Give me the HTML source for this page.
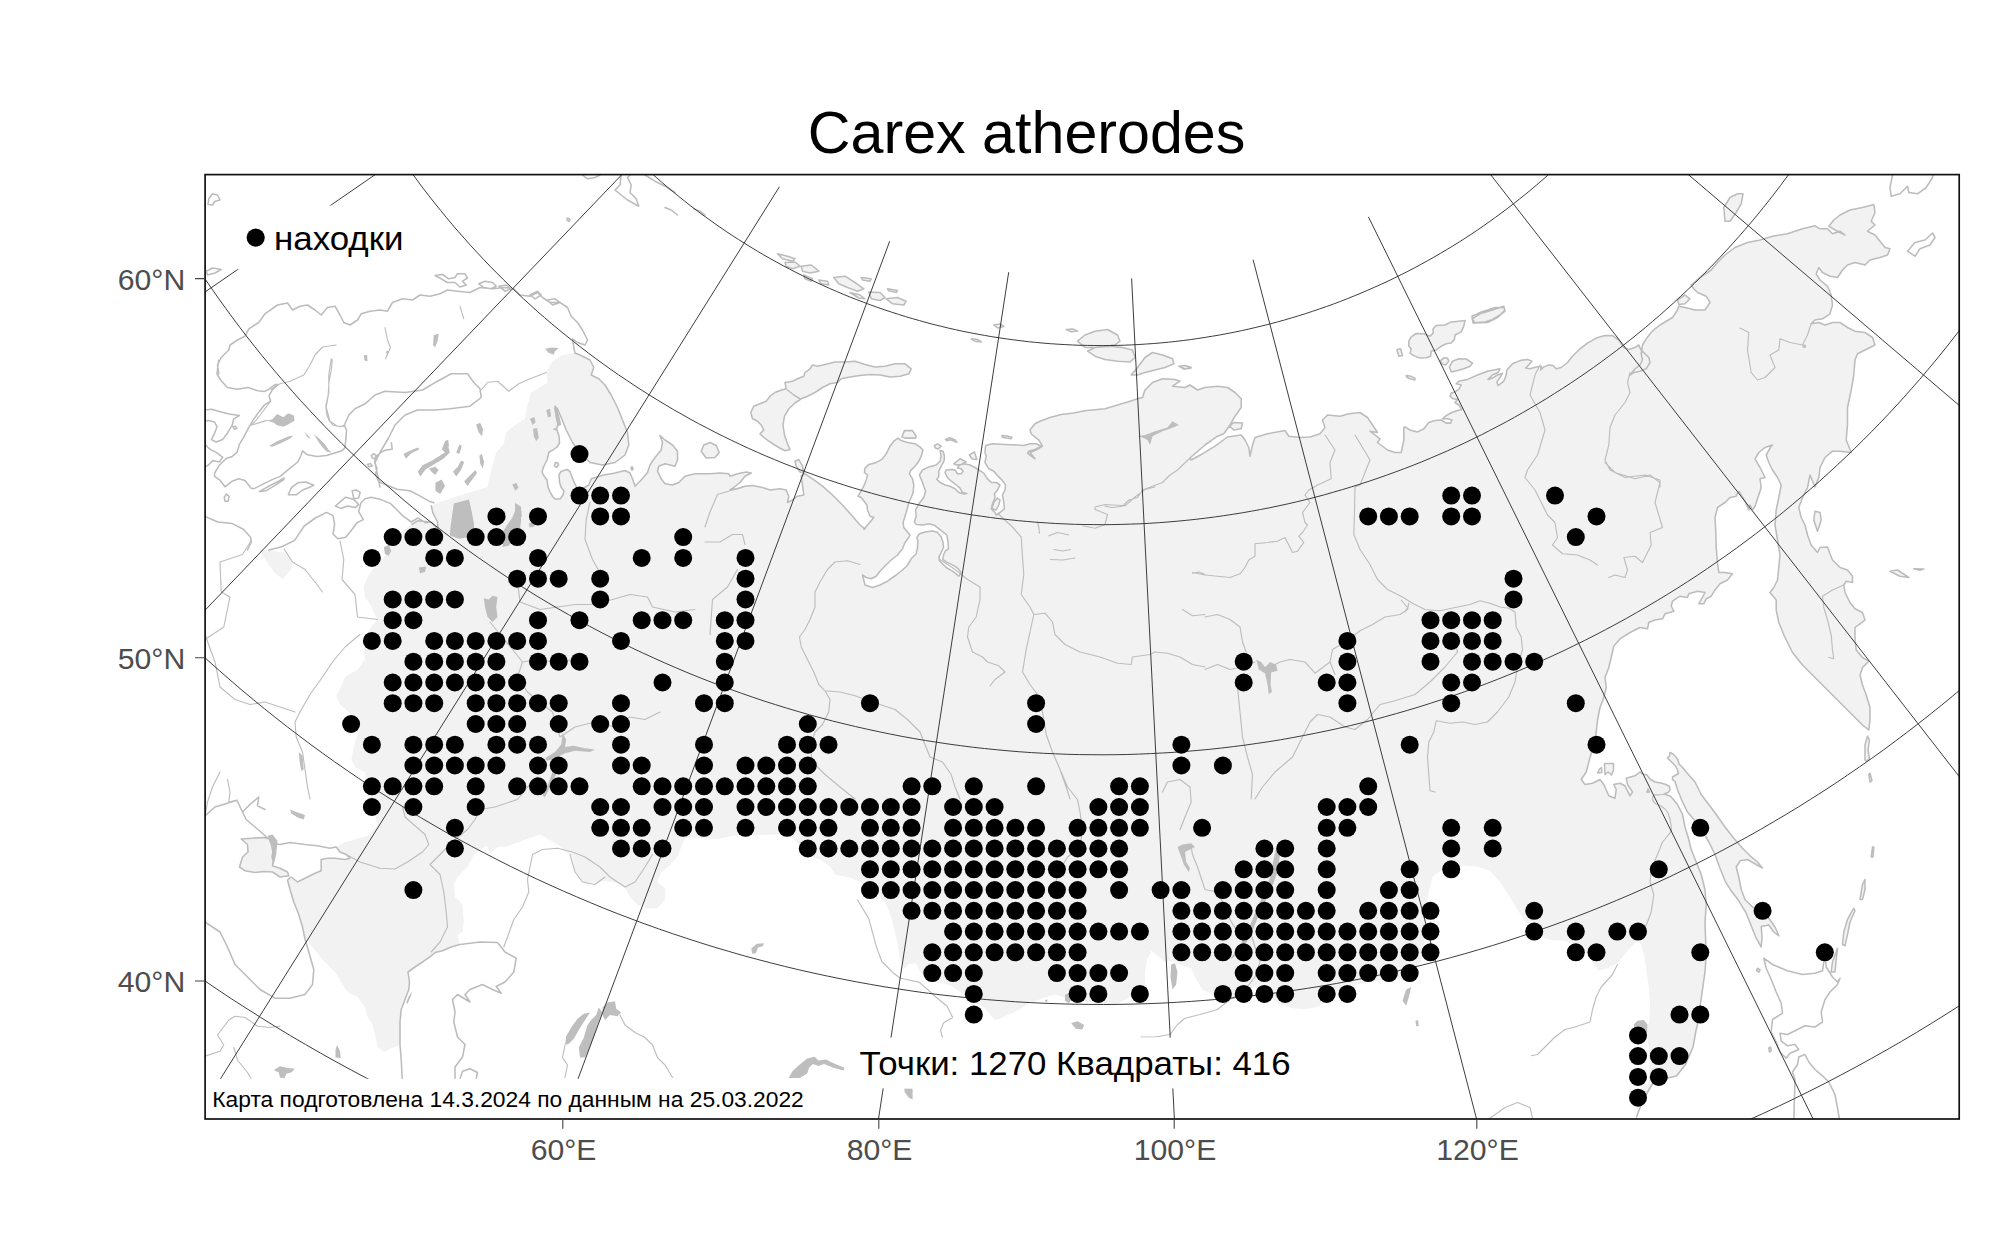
<!DOCTYPE html>
<html lang="ru"><head><meta charset="utf-8"><title>Carex atherodes</title>
<style>
html,body{margin:0;padding:0;background:#fff}
svg{display:block}
text{font-family:"Liberation Sans",sans-serif}
.g{fill:none;stroke:#333;stroke-width:.95}
.c{fill:none;stroke:#bcbcbc;stroke-width:1.55;stroke-linejoin:round;stroke-linecap:round}
.l{fill:#f2f2f2;stroke:none}
.k{fill:#bebebe;stroke:none}
.r{fill:none;stroke:#bdbdbd;stroke-width:1.15;stroke-linejoin:round;stroke-linecap:round}
.w{fill:#fff;stroke:none}
.ax{font-size:30.2px;fill:#4d4d4d}
.tk{stroke:#444;stroke-width:1.1;fill:none}
</style></head><body>
<svg width="2000" height="1253" viewBox="0 0 2000 1253">
<defs><clipPath id="pc"><rect x="205.1" y="174.6" width="1754.1" height="944.4"/></clipPath></defs>
<rect x="0" y="0" width="2000" height="1253" fill="#fff"/>
<g clip-path="url(#pc)">
<path class="l" d="M701.2 451.2 703.8 445.0 710.0 442.5 716.2 445.5 719.2 452.5 715.0 457.5 706.2 458.0Z M901.9 436.9 904.4 430.6 912.5 430.6 916.2 436.2 915.6 438.1 905.0 438.1Z M795.0 461.2 798.8 459.5 802.5 466.2 803.8 473.0 800.0 472.0 796.2 466.2Z M969.4 455.0 974.4 451.9 976.9 459.4 971.9 458.8Z M953.8 463.8 960.0 458.8 966.2 461.9 961.2 464.4 956.2 465.0Z M945.6 439.4 950.0 437.8 955.0 440.0 956.9 442.2 953.8 441.0 950.0 439.8 946.9 440.8Z M934.4 445.6 937.5 443.8 941.2 446.2 938.1 449.0 935.6 448.1Z M1001.9 435.6 1006.9 436.0 1011.9 437.2 1011.2 438.8 1006.2 438.1 1002.5 437.2Z M991.9 508.8 993.8 502.5 997.5 498.1 1000.0 500.0 998.8 505.0 996.2 510.0Z M911.2 368.8 905.0 363.8 895.0 363.8 885.0 366.2 875.0 367.0 865.0 364.5 855.0 361.2 845.0 362.0 835.0 362.0 825.0 364.5 817.5 366.2 812.5 365.0 810.0 368.8 805.0 372.5 803.8 376.2 797.5 378.8 792.5 381.2 785.0 382.5 786.2 388.8 780.0 390.5 775.0 392.5 770.0 396.2 766.2 401.2 760.0 403.8 753.8 406.2 750.8 412.5 752.5 418.8 757.5 421.2 761.2 425.0 763.8 430.0 760.0 433.8 763.8 437.5 768.8 441.2 773.8 444.5 778.8 447.5 785.0 450.8 790.0 449.5 787.5 443.8 784.5 435.0 783.0 425.0 784.5 416.2 788.8 408.8 795.0 403.0 801.2 398.8 807.5 396.2 815.0 392.5 822.5 387.5 830.0 383.8 837.5 382.5 841.2 378.8 850.0 377.0 860.0 375.5 870.0 374.5 880.0 375.0 890.0 377.0 900.0 376.2 908.8 373.8Z M777.5 253.8 787.5 256.2 795.0 258.8 792.5 261.2 782.5 258.8Z M785.0 262.5 795.0 262.0 800.0 266.2 792.5 268.8 786.2 266.2Z M801.2 266.2 811.2 265.0 818.8 271.2 810.0 273.0 802.5 271.2Z M833.8 277.5 845.0 276.2 855.0 282.5 863.8 288.8 857.5 291.2 847.5 287.5 838.8 283.8Z M861.2 277.5 871.2 278.8 870.0 281.2 862.5 280.0Z M868.8 292.0 880.0 292.5 885.0 297.5 880.0 300.5 871.2 298.8Z M886.2 298.8 897.5 297.5 906.2 301.2 903.8 305.0 892.5 303.8Z M887.5 288.8 897.5 290.5 896.2 292.5 888.8 290.8Z M818.8 280.0 827.5 281.2 828.8 285.0 821.2 283.8Z M803.8 275.0 812.5 278.8 811.2 281.2 805.0 278.8Z M850.0 292.5 860.0 295.0 865.0 298.8 858.8 298.0Z M993.8 325.0 1000.0 324.0 1003.8 326.5 997.5 328.0Z M971.2 338.8 977.5 339.5 981.2 342.0 975.0 341.2Z M1077.5 341.2 1085.0 335.0 1095.0 331.2 1107.5 329.5 1117.5 335.0 1120.0 341.2 1115.0 345.0 1105.0 346.2 1095.0 347.5 1085.0 347.5Z M1087.5 351.2 1095.0 347.5 1110.0 346.2 1122.5 347.5 1132.5 350.0 1135.0 357.5 1130.0 362.0 1117.5 361.2 1105.0 359.5 1095.0 356.2Z M1131.2 375.0 1137.5 367.5 1145.0 357.5 1152.5 352.5 1162.5 355.0 1172.5 358.8 1173.8 363.8 1165.0 367.5 1155.0 370.0 1145.0 372.5 1137.5 375.0Z M1066.2 329.5 1072.5 329.0 1077.5 331.0 1071.2 331.8Z M1178.8 366.2 1185.0 365.5 1191.2 368.0 1183.8 369.2Z M241.2 839.0 263.8 837.5 270.0 839.0 272.0 847.0 273.8 857.0 272.5 865.8 280.0 868.2 287.5 872.0 288.8 875.8 280.0 877.0 272.5 872.0 263.8 871.5 255.0 872.5 245.0 870.8 239.5 867.0 242.5 857.0 248.0 852.0 247.5 844.5Z M258.8 549.0 285.0 552.5 292.5 560.8 291.2 569.5 282.5 579.0 275.0 573.2 265.0 559.5Z M1670.0 752.5 1673.0 754.0 1676.0 757.0 1678.0 760.0 1679.0 764.0 1683.0 768.0 1686.2 772.0 1695.0 782.0 1701.2 794.5 1708.8 804.5 1716.2 814.5 1725.0 827.0 1733.8 838.2 1742.5 848.2 1750.0 855.8 1757.5 862.0 1762.5 868.2 1756.2 864.5 1747.5 859.5 1740.0 860.8 1736.2 867.0 1738.8 877.0 1741.2 889.5 1745.0 899.5 1752.5 907.0 1762.5 912.0 1768.8 918.2 1775.0 927.0 1778.8 935.8 1773.8 932.0 1768.8 925.0 1761.2 926.5 1762.0 937.0 1761.2 947.0 1756.2 938.2 1751.2 925.8 1746.2 913.2 1738.8 900.8 1731.2 890.8 1725.0 880.8 1720.0 868.2 1715.0 854.5 1708.8 842.0 1702.5 830.8 1695.0 820.8 1687.5 812.0 1682.5 802.0 1677.5 789.5 1675.0 781.5 1672.5 779.5 1672.5 777.0 1676.0 775.0 1678.5 773.5 1677.5 770.0 1675.5 766.0 1672.0 762.5 1669.5 760.0 1667.5 758.0 1669.5 756.0Z M1723.8 207.5 1730.0 197.5 1737.5 193.8 1743.0 193.8 1741.2 203.8 1736.2 212.5 1730.0 221.2 1725.0 221.2Z M1472.0 318.8 1480.0 313.8 1492.5 310.0 1503.8 306.2 1505.0 311.2 1497.5 317.5 1487.5 322.5 1475.0 323.0Z M1677.5 300.0 1685.0 295.0 1690.0 298.8 1685.0 303.8 1678.8 304.5Z M1229.5 426.2 1233.8 422.5 1242.5 423.0 1241.2 428.8 1233.8 430.0Z M1397.0 349.5 1400.5 348.8 1402.5 355.5 1398.8 356.2Z M1178.8 366.2 1185.0 365.5 1191.2 367.5 1185.0 369.0Z M1813.8 520.0 1815.0 511.2 1820.0 512.5 1821.2 520.0 1817.5 531.2Z M1890.0 571.2 1897.5 570.0 1908.8 577.5 1900.0 576.2Z M1913.8 568.8 1923.8 569.0 1920.0 570.2Z M1865.0 760.0 1865.0 745.0 1867.5 736.2 1869.5 740.0 1868.0 750.0 1869.5 758.8 1866.2 761.2Z M1831.2 972.0 1832.5 962.0 1837.5 948.2 1836.2 959.5 1835.0 972.0Z M1842.5 944.5 1843.8 932.0 1847.5 919.5 1853.8 908.2 1855.0 910.8 1850.0 922.0 1847.5 934.5 1845.0 945.8Z M1860.0 899.5 1862.5 884.5 1865.0 879.5 1865.0 889.5 1862.5 899.5Z M1871.2 857.0 1872.5 847.0 1873.8 847.0 1873.0 857.0Z M1868.8 774.5 1870.0 773.2 1872.0 780.8 1870.0 782.0Z M1604.5 763.5 1613.5 763.5 1613.5 770.0 1611.5 775.0 1608.0 772.0 1605.0 774.5Z M1597.5 773.0 1599.5 769.0 1601.5 767.5 1601.8 772.5Z M1647.0 792.2 1648.0 789.0 1649.5 792.0Z M1408.8 341.2 1411.2 336.9 1416.2 333.5 1423.8 333.8 1430.0 336.2 1433.1 333.1 1433.1 328.8 1436.2 325.6 1445.0 325.0 1451.2 321.9 1458.8 321.2 1465.0 320.6 1463.8 326.2 1461.2 331.9 1455.0 335.0 1454.4 339.4 1451.2 343.1 1446.2 343.8 1441.2 346.2 1436.2 350.0 1431.2 351.2 1430.6 356.2 1426.2 357.8 1420.0 358.1 1413.8 355.6 1410.0 353.1 1411.2 348.8 1408.8 346.2Z M1471.9 316.2 1476.2 314.4 1481.2 311.9 1487.5 310.0 1495.0 307.5 1503.8 307.5 1505.0 310.0 1500.0 315.0 1492.5 319.4 1485.0 321.9 1477.5 322.5 1473.1 323.1Z M1449.4 366.9 1452.5 361.2 1458.8 358.8 1466.2 359.0 1472.5 363.1 1470.0 366.2 1463.8 368.8 1457.5 370.6 1451.2 371.9Z M1440.6 360.6 1443.8 357.8 1447.5 358.1 1448.8 361.2 1445.6 365.0 1441.9 364.0Z M1406.2 375.6 1410.0 376.0 1415.0 378.1 1414.8 380.0 1410.0 378.8 1406.9 377.2Z M554.5 466.0 555.5 462.5 558.0 463.0 558.5 465.0 556.5 467.5Z M631.0 467.5 632.2 466.8 633.2 469.0 631.8 470.0Z M575.0 353.0 580.0 355.0 590.0 360.0 593.8 367.5 591.2 375.0 598.8 378.8 605.0 385.0 611.2 395.0 617.5 407.5 622.5 420.0 627.5 432.5 628.8 445.0 625.0 455.0 615.0 462.5 602.5 465.0 590.0 462.5 580.0 452.5 572.5 442.5 566.2 430.0 561.2 417.5 557.5 408.8 555.0 406.2 555.5 408.0 557.0 410.0 556.0 414.0 556.5 418.0 558.0 424.0 556.5 429.0 554.0 429.0 557.0 430.0 559.0 436.0 559.5 443.0 557.0 447.0 553.0 450.0 549.0 452.0 547.0 460.0 543.5 467.0 542.0 472.0 544.0 476.0 547.0 480.0 548.0 487.0 550.0 492.0 553.0 497.0 555.0 499.0 560.0 499.0 563.0 495.0 564.0 491.0 561.0 487.0 559.5 482.0 559.0 475.0 561.0 471.5 567.0 469.5 570.0 471.5 572.0 477.0 574.0 482.0 576.0 486.0 579.0 492.0 580.0 490.0 588.8 485.0 591.2 478.8 603.8 475.0 615.0 473.0 625.0 470.5 630.0 473.0 633.0 480.0 635.0 486.2 641.2 480.0 647.5 472.5 650.0 465.0 655.0 457.5 661.2 450.0 662.5 442.5 660.0 435.5 665.0 440.0 672.5 445.0 677.5 451.2 677.5 460.0 675.0 466.2 665.0 463.8 658.8 466.2 657.5 471.2 661.2 478.8 665.0 483.8 672.5 485.0 678.8 482.5 685.0 476.2 695.0 473.8 710.0 473.8 720.0 473.0 728.8 473.8 730.0 476.2 737.5 473.8 746.2 472.0 751.2 473.0 745.0 476.2 740.0 482.5 733.8 487.5 730.0 490.0 737.5 488.8 745.0 486.2 752.5 485.5 762.5 487.5 770.0 490.0 780.0 488.8 786.2 490.0 788.8 496.2 787.5 502.5 792.5 500.0 797.5 496.2 803.8 495.0 802.5 485.0 801.2 476.2 805.0 473.8 812.5 478.8 822.5 486.2 832.5 495.0 842.5 505.0 852.5 516.2 860.0 525.0 865.0 528.8 863.8 529.4 873.8 517.5 870.0 516.2 867.5 510.0 866.9 505.0 861.2 497.5 858.1 496.2 863.8 486.2 866.2 480.0 867.5 475.0 864.4 472.5 865.0 468.1 868.8 464.4 875.0 463.1 881.9 459.4 886.2 453.8 890.0 446.2 894.4 440.6 898.1 438.1 901.2 440.6 907.5 442.5 915.0 443.8 920.0 446.9 922.9 450.0 921.2 456.2 918.8 461.2 915.0 466.2 910.6 470.6 909.4 473.8 912.5 478.8 913.8 485.0 913.1 492.5 911.2 497.5 908.8 502.5 906.9 510.0 905.0 516.2 903.1 522.5 903.8 527.5 907.5 531.9 910.0 535.0 908.8 537.5 905.0 542.5 902.5 548.8 897.5 555.0 891.2 560.0 885.0 566.0 880.0 571.2 876.2 576.2 871.2 578.8 866.2 577.5 862.5 575.0 865.0 585.0 872.5 587.5 880.0 585.0 887.5 581.2 896.2 575.0 902.5 570.0 906.9 566.0 911.2 558.8 916.2 553.8 917.5 547.5 917.9 541.2 916.9 537.5 919.4 533.8 925.0 531.9 932.5 531.0 937.5 532.2 941.2 536.9 943.1 542.5 943.5 547.5 941.2 552.5 939.0 556.9 939.4 560.6 942.5 563.8 946.2 567.5 952.5 571.2 958.8 576.2 961.2 572.5 957.5 568.1 953.8 565.6 946.2 561.9 942.8 559.4 943.5 555.0 945.6 550.6 948.5 548.8 948.1 542.5 946.9 535.0 941.2 530.6 935.0 525.6 928.8 523.8 923.1 525.0 916.2 524.4 914.4 521.9 916.2 516.2 915.6 510.0 918.8 503.8 923.8 497.5 925.6 491.2 922.5 482.5 919.4 475.0 922.5 470.0 928.8 466.9 936.2 465.0 940.0 461.2 941.2 456.2 940.0 450.6 943.1 451.2 944.4 456.2 944.0 461.2 941.2 466.2 938.8 471.2 938.8 476.2 936.9 479.4 940.0 482.5 945.0 485.0 950.0 486.2 955.0 488.8 958.8 492.5 963.8 494.0 966.9 493.5 962.5 492.5 960.0 488.1 956.2 485.0 951.2 481.2 947.5 477.5 945.0 472.5 946.2 470.0 951.2 469.4 955.0 470.0 957.5 473.8 961.2 473.8 963.1 471.2 961.2 468.8 957.5 468.1 958.8 465.6 963.8 463.8 970.0 465.0 975.0 467.5 978.8 470.0 983.8 473.1 986.9 478.1 991.2 482.5 996.2 482.5 1000.0 485.0 997.5 490.0 994.4 493.8 995.0 497.5 992.5 503.8 991.2 508.8 995.0 512.5 996.2 515.0 1000.0 512.5 1004.4 508.8 1003.8 502.5 1002.5 495.0 1005.0 490.0 1005.6 485.0 1002.5 480.6 997.5 475.6 993.8 471.2 988.8 468.8 985.0 462.5 986.2 456.2 985.0 452.5 985.6 445.6 992.5 443.8 1005.0 444.4 1017.5 445.0 1023.8 445.6 1030.0 443.8 1036.2 443.8 1041.2 446.2 1035.0 449.4 1028.8 451.2 1027.5 453.1 1035.0 458.8 1030.0 452.5 1036.2 450.0 1042.5 446.2 1038.8 440.0 1033.8 436.2 1031.2 433.8 1030.0 430.0 1035.0 423.8 1040.0 421.2 1050.0 417.5 1061.2 414.4 1073.8 413.1 1086.2 410.6 1092.5 410.0 1092.5 410.0 1105.0 408.8 1117.5 405.0 1130.0 401.2 1137.5 398.8 1142.5 397.5 1145.0 390.0 1152.5 382.5 1162.5 378.8 1175.0 379.5 1180.0 381.2 1172.5 386.2 1185.0 387.5 1190.0 385.0 1197.5 390.0 1205.0 387.5 1217.5 386.2 1227.5 387.5 1235.0 392.5 1241.2 398.8 1241.2 407.5 1235.0 416.2 1230.0 425.0 1223.8 433.8 1217.5 436.2 1205.0 445.0 1190.0 458.0 1191.2 460.0 1202.5 453.8 1215.0 446.2 1227.5 437.0 1241.2 435.0 1245.0 440.0 1248.8 447.5 1250.0 456.2 1252.5 445.0 1255.0 437.5 1267.5 433.8 1285.0 430.5 1288.8 436.2 1300.0 437.5 1310.0 437.0 1320.0 433.8 1325.0 427.5 1322.5 420.0 1327.5 415.0 1340.0 416.2 1348.8 413.8 1360.0 412.5 1367.5 417.5 1372.5 425.0 1377.5 432.5 1370.0 431.2 1380.0 438.8 1377.5 442.5 1387.5 450.0 1395.0 452.5 1401.2 452.5 1403.8 440.0 1403.8 427.5 1405.0 426.9 1410.0 430.0 1417.5 431.9 1423.8 428.8 1428.8 422.5 1435.0 420.6 1441.2 420.0 1446.2 423.1 1450.6 423.1 1451.9 420.0 1447.5 418.8 1442.5 418.8 1446.2 415.6 1451.9 412.5 1457.5 410.6 1461.9 409.4 1458.8 405.0 1455.0 402.5 1457.5 399.4 1453.1 398.8 1450.0 396.2 1451.2 393.1 1455.0 391.9 1458.8 389.4 1461.2 385.0 1456.2 383.8 1458.8 381.2 1467.5 379.4 1477.5 375.0 1487.5 371.2 1500.0 368.8 1498.1 372.5 1492.5 375.0 1488.1 379.4 1492.5 378.1 1497.5 375.0 1502.5 373.1 1500.0 377.5 1496.9 381.9 1498.1 385.6 1503.8 381.2 1506.2 375.0 1506.9 370.0 1512.5 363.8 1520.0 360.6 1527.5 359.4 1531.9 361.2 1528.8 365.0 1525.6 368.1 1530.0 368.8 1536.2 366.9 1541.2 366.2 1540.6 370.0 1543.8 366.9 1548.8 365.0 1553.1 365.6 1556.2 368.8 1561.2 367.5 1567.5 362.5 1572.5 356.2 1580.0 348.8 1587.5 343.1 1596.2 338.1 1605.0 335.6 1612.5 335.6 1618.8 340.0 1623.8 347.5 1628.8 349.4 1635.0 347.5 1638.8 345.0 1640.6 349.4 1645.0 353.8 1648.8 357.5 1650.0 362.5 1646.2 368.8 1640.0 371.2 1633.8 372.5 1630.0 375.0 1635.0 368.8 1640.0 365.0 1642.5 360.0 1641.2 353.8 1642.5 345.0 1646.2 338.8 1651.2 332.5 1655.0 328.8 1660.0 325.0 1672.5 317.5 1677.5 310.0 1678.8 306.2 1685.0 307.5 1695.0 310.0 1705.0 310.0 1710.0 302.5 1706.2 296.2 1697.5 292.5 1693.8 288.8 1691.2 285.0 1700.0 277.5 1711.2 270.0 1717.5 262.5 1725.0 255.0 1735.0 247.5 1747.5 242.5 1760.0 240.0 1772.5 236.2 1787.5 233.8 1802.5 228.8 1815.0 225.8 1820.0 228.8 1827.5 228.8 1832.5 233.8 1840.0 231.2 1845.0 235.0 1835.0 230.0 1828.8 226.2 1833.8 220.0 1840.0 215.0 1850.0 210.0 1862.5 207.5 1873.8 204.5 1875.0 212.5 1871.2 221.2 1875.0 225.0 1867.5 231.2 1875.0 235.0 1880.0 241.2 1885.0 247.5 1890.0 248.8 1887.5 255.0 1880.0 257.5 1870.0 260.0 1865.0 265.0 1855.0 262.5 1847.5 265.0 1842.5 270.0 1837.5 277.5 1830.0 276.2 1822.5 272.5 1818.8 267.5 1816.2 273.8 1820.0 280.0 1827.5 286.2 1831.2 295.0 1832.5 305.0 1830.0 313.8 1822.5 318.8 1815.0 320.0 1811.2 323.8 1818.8 322.5 1825.0 325.0 1832.5 322.5 1840.0 322.5 1847.5 327.5 1855.0 331.2 1865.0 332.5 1872.5 337.5 1875.0 345.0 1865.0 350.0 1857.5 353.8 1855.0 360.0 1853.8 375.0 1851.2 390.0 1847.5 407.5 1847.5 425.0 1846.2 440.0 1851.2 452.5 1840.0 451.2 1832.5 451.2 1825.0 457.5 1820.0 467.5 1818.8 477.5 1815.0 487.0 1815.0 487.0 1810.0 475.0 1807.5 487.5 1802.5 497.5 1798.8 507.5 1801.2 517.5 1805.0 525.0 1807.5 535.0 1811.2 545.0 1817.5 552.5 1820.0 547.5 1827.5 547.0 1830.0 553.8 1832.5 560.0 1840.0 567.5 1847.5 570.0 1852.5 576.2 1852.5 582.5 1846.2 581.2 1843.8 585.0 1845.0 592.5 1850.0 602.5 1855.0 608.8 1862.5 612.5 1865.0 620.0 1860.0 623.8 1855.0 627.5 1855.0 640.0 1856.2 650.0 1862.5 657.5 1868.8 661.2 1862.5 667.5 1860.0 675.0 1862.5 685.0 1866.2 695.0 1870.0 707.5 1870.0 720.0 1868.8 730.0 1862.5 725.0 1852.5 715.0 1840.0 702.5 1827.5 690.0 1815.0 677.5 1802.5 665.0 1792.5 652.5 1785.0 637.5 1778.8 622.5 1776.2 610.0 1776.2 600.0 1770.0 592.5 1773.8 587.5 1777.5 580.0 1778.8 567.5 1780.0 555.0 1777.5 540.0 1775.0 525.0 1776.2 510.0 1778.8 497.5 1781.2 485.0 1777.5 477.5 1772.5 470.0 1768.8 462.5 1766.2 455.0 1771.2 446.2 1772.5 445.0 1765.0 447.5 1758.8 452.5 1755.0 458.8 1760.0 467.5 1763.8 475.0 1765.0 477.5 1760.0 478.8 1761.2 487.5 1757.5 498.8 1755.0 506.2 1752.5 510.0 1750.0 505.0 1748.8 510.0 1745.0 501.2 1738.8 491.2 1736.2 496.2 1730.0 497.5 1725.0 502.5 1717.5 507.5 1715.0 517.5 1715.8 532.5 1716.2 547.5 1717.5 562.5 1718.8 572.5 1725.0 572.5 1732.5 573.8 1727.5 580.0 1720.0 583.8 1715.0 590.0 1711.2 596.2 1706.2 598.8 1703.8 603.8 1698.8 603.8 1705.0 592.5 1697.5 591.2 1688.8 593.8 1687.5 597.5 1680.0 596.2 1672.5 601.2 1671.2 606.2 1673.8 611.2 1665.0 613.8 1662.5 618.8 1655.0 620.0 1648.8 622.5 1647.5 628.8 1640.0 627.5 1630.0 632.5 1620.0 638.8 1613.8 646.2 1611.2 657.5 1608.8 667.5 1605.0 677.5 1606.2 687.5 1603.8 697.5 1600.0 707.5 1597.5 720.0 1596.2 732.5 1593.8 745.0 1590.0 757.5 1586.2 772.0 1586.2 772.0 1581.2 779.5 1585.0 784.5 1592.5 783.2 1600.0 779.5 1603.8 784.5 1608.8 795.8 1615.0 798.2 1616.2 789.5 1613.8 784.5 1620.0 783.2 1625.0 785.8 1630.0 795.8 1632.5 792.0 1627.5 784.5 1626.2 778.2 1635.0 775.8 1640.0 772.0 1643.0 774.0 1647.0 775.0 1650.0 779.0 1655.0 782.0 1661.0 783.0 1666.0 784.5 1669.5 786.5 1670.0 790.0 1668.0 792.5 1664.0 794.0 1670.0 796.0 1673.0 799.0 1677.5 804.5 1682.5 814.5 1685.0 827.0 1688.8 839.5 1691.2 849.5 1696.2 862.0 1701.2 874.5 1705.0 889.5 1706.2 904.5 1705.0 922.0 1705.5 937.0 1706.2 954.5 1705.0 972.0 1702.5 989.5 1700.0 1007.0 1697.5 1024.5 1696.0 1030.5 1693.0 1047.0 1685.8 1064.0 1676.5 1076.0 1663.5 1079.0 1652.0 1084.5 1646.5 1094.0 1641.0 1105.0 1636.5 1117.0 1637.5 1104.5 1640.0 1092.0 1643.8 1084.5 1648.8 1084.0 1649.5 1067.0 1648.8 1047.0 1646.2 1032.0 1649.5 1019.5 1650.0 1004.5 1648.8 987.0 1646.2 969.5 1644.5 957.0 1641.2 944.5 1637.5 940.8 1627.5 950.8 1617.5 963.2 1607.5 968.2 1598.8 970.8 1593.8 964.5 1588.8 955.8 1580.0 947.0 1565.0 940.8 1550.0 940.0 1537.5 935.0 1527.5 924.5 1518.8 912.0 1510.0 897.0 1500.0 882.0 1490.0 870.8 1477.5 866.5 1465.0 865.8 1455.0 864.5 1442.5 869.5 1433.0 876.0 1427.5 897.0 1426.0 924.8 1422.5 957.2 1415.0 972.0 1403.8 980.8 1393.2 977.5 1375.0 980.8 1360.0 984.0 1344.0 987.5 1330.0 998.2 1317.5 1007.0 1306.2 1009.0 1292.5 1008.2 1280.0 1004.5 1267.5 994.5 1255.0 986.5 1242.5 992.0 1230.0 997.0 1217.5 1003.2 1212.5 994.5 1202.5 989.5 1196.2 979.5 1191.2 968.2 1180.0 964.5 1172.8 960.8 1165.0 962.0 1151.5 950.8 1147.5 958.2 1145.0 972.0 1145.0 991.0 1130.0 997.0 1115.0 1005.8 1100.8 1004.5 1085.0 1000.8 1067.0 998.2 1055.0 994.5 1042.5 998.2 1030.0 1003.2 1015.0 1012.0 995.0 1020.5 985.0 1008.2 967.5 997.0 950.0 985.0 930.0 980.8 920.0 972.0 916.2 963.2 908.0 964.5 903.8 969.5 900.0 957.0 896.2 937.0 891.2 917.0 885.0 902.0 872.5 889.5 860.0 882.0 850.0 877.5 835.5 875.0 830.0 866.5 820.5 859.5 812.5 857.5 805.0 854.5 801.2 847.0 795.0 840.8 787.5 834.5 737.5 835.0 717.5 839.0 685.5 837.5 681.2 847.0 677.5 857.0 668.8 866.5 661.2 872.0 657.5 881.5 665.5 889.0 665.0 899.5 657.5 908.2 647.5 908.2 637.5 905.0 630.0 897.0 625.0 887.5 615.0 882.5 605.0 881.0 595.0 882.5 582.5 882.0 575.5 872.0 572.5 857.0 557.5 844.5 540.0 834.5 517.5 842.5 505.0 847.0 497.5 847.0 490.0 853.2 487.0 845.8 480.0 850.0 473.8 855.0 467.5 867.0 457.5 877.0 453.8 884.5 455.0 897.0 462.5 904.5 463.8 922.0 462.5 932.0 457.5 935.0 460.0 944.5 460.0 944.5 451.2 947.0 442.5 950.8 435.0 952.5 431.2 955.8 422.5 962.0 415.0 967.0 408.0 972.0 409.5 982.0 408.8 989.5 405.0 999.5 401.2 1009.5 400.0 1022.0 400.0 1034.5 400.0 1045.0 391.2 1048.2 383.8 1052.0 377.5 1047.0 375.0 1034.5 372.5 1024.5 367.5 1017.0 365.0 1007.0 357.5 997.0 347.5 992.0 342.5 984.5 335.0 972.0 322.5 959.5 312.5 947.0 305.0 939.0 305.0 939.0 302.5 927.0 298.8 914.5 293.8 902.0 290.0 889.5 287.5 880.0 291.2 877.0 297.5 882.0 305.0 878.2 315.0 873.2 321.2 870.8 321.2 859.5 327.5 858.2 335.0 858.2 345.0 859.5 350.0 858.2 346.2 854.5 340.0 852.0 336.2 847.0 343.8 842.5 355.0 839.5 367.5 835.8 377.5 825.8 375.0 814.5 367.5 794.5 365.0 772.0 356.2 768.2 351.2 759.5 353.8 747.0 357.5 734.5 355.0 720.8 348.8 712.0 340.0 704.5 336.2 695.8 341.2 687.0 345.0 677.0 357.5 669.5 365.0 659.5 363.8 647.0 365.0 637.0 371.2 627.0 377.5 619.5 370.0 604.5 365.0 597.0 363.8 587.0 367.5 577.0 372.5 569.5 380.0 562.0 386.2 554.5 390.0 545.8 395.0 537.0 402.5 530.8 412.0 524.5 412.0 524.5 417.5 520.8 425.0 521.5 431.2 522.0 438.0 529.5 437.5 522.0 433.0 513.2 431.2 505.8 440.0 502.0 455.0 497.0 487.5 487.0 490.0 475.0 492.5 465.0 496.2 452.5 503.8 443.8 506.2 432.5 515.0 425.0 525.0 418.8 527.5 405.0 531.2 392.5 540.0 387.5 547.5 382.5 546.2 372.5 552.5 361.2 562.5 355.0 575.0 353.0Z"/>
<path class="k" d="M545.0 348.8 551.2 347.5 558.8 348.0 555.0 351.2 553.8 354.5 548.8 353.0Z M433.8 335.0 438.8 333.8 437.5 341.2 435.0 347.5 433.0 345.0Z M363.8 355.0 367.0 355.5 367.5 361.2 364.5 360.5Z M476.2 425.0 480.0 423.8 483.0 430.0 482.0 436.2 478.8 432.5Z M530.0 418.8 534.5 417.0 535.5 422.5 532.5 425.0Z M533.0 428.8 537.0 428.0 538.8 437.5 536.2 441.2 533.8 436.2Z M546.2 410.0 550.0 408.8 551.2 416.2 548.0 417.5Z M553.8 407.5 557.0 407.0 560.0 418.8 561.2 425.0 558.0 426.2 555.5 416.2Z M1137.5 436.2 1145.0 435.0 1155.0 431.2 1167.5 427.5 1172.5 421.2 1178.8 425.0 1170.0 428.8 1162.5 431.2 1152.5 436.2 1150.0 445.0 1147.5 440.0 1142.5 437.5Z M1802.5 344.5 1806.2 345.0 1805.8 348.0 1802.5 347.5Z M1633.8 1024.5 1637.5 1020.8 1643.8 1020.0 1647.5 1024.5 1647.0 1032.0 1640.0 1033.2 1635.0 1030.8Z M1256.2 659.5 1261.2 662.0 1265.0 667.0 1270.5 662.0 1276.2 665.0 1277.5 670.8 1271.2 672.5 1270.5 684.5 1272.0 692.0 1268.8 694.0 1267.5 684.5 1265.0 673.2 1258.8 669.5Z M1276.2 848.2 1280.0 854.5 1277.5 872.0 1273.8 882.0 1267.5 897.0 1260.0 912.0 1255.0 924.5 1251.2 934.5 1245.0 944.5 1233.8 957.0 1230.0 959.5 1238.8 947.0 1246.2 934.5 1252.5 919.5 1257.5 907.0 1265.0 892.0 1270.0 877.0 1273.0 862.0Z M1177.5 847.0 1182.5 844.5 1191.2 843.2 1195.0 847.0 1190.0 849.5 1185.0 852.0 1186.2 862.0 1190.0 868.2 1188.8 872.0 1183.8 864.5 1181.2 857.0Z M1171.2 964.5 1175.0 963.2 1177.5 972.0 1176.2 984.5 1172.5 989.5 1170.5 977.0Z M1065.0 994.5 1069.5 993.2 1072.0 998.2 1068.8 1003.2 1065.0 1000.8Z M1402.5 1000.8 1406.2 989.5 1411.2 987.0 1408.8 997.0 1406.2 1005.8Z M1415.5 1020.8 1418.0 1020.0 1418.8 1025.8 1416.2 1026.5Z M267.5 835.8 272.5 834.5 277.5 840.8 276.2 854.5 273.8 864.5 271.2 857.0 273.0 847.0 269.5 842.0Z M290.0 809.5 296.2 812.0 305.0 815.0 303.8 819.5 297.5 817.5 291.2 813.2Z M273.8 1070.0 280.0 1066.2 287.5 1068.0 295.0 1068.8 291.2 1072.5 286.2 1073.8 284.5 1078.2 280.0 1077.5 278.8 1072.5Z M335.5 1050.0 337.0 1045.0 340.0 1051.2 340.8 1058.0 335.5 1057.5Z M406.2 1002.5 408.8 996.2 412.5 991.2 410.5 997.0 407.5 1003.8Z M565.0 1045.0 566.2 1036.2 571.2 1027.5 577.5 1018.8 583.8 1013.8 590.0 1012.5 585.0 1020.0 578.8 1030.0 573.8 1038.8 568.8 1043.8Z M580.0 1057.5 578.8 1047.5 583.8 1037.5 587.5 1025.0 591.2 1020.0 596.2 1015.0 598.8 1007.5 602.5 1012.5 597.5 1025.0 593.8 1037.5 588.8 1050.0 585.0 1057.5Z M602.5 1007.5 607.5 1002.5 615.0 1001.2 616.2 1008.8 621.2 1012.5 617.5 1016.2 610.0 1015.0 605.0 1020.0 602.5 1015.0Z M788.6 1078.1 792.3 1071.6 797.9 1066.0 807.2 1058.5 814.7 1056.7 818.4 1060.4 825.9 1059.5 835.2 1064.1 844.5 1067.8 843.6 1070.6 833.4 1067.8 824.0 1064.1 818.4 1066.0 812.8 1064.1 809.1 1067.8 807.2 1073.4 799.8 1078.1Z M751.3 948.5 756.9 943.8 764.0 943.3 762.9 946.3 757.8 947.6 756.0 953.2 752.2 953.7Z M904.2 1088.4 912.6 1088.4 912.6 1099.6 908.9 1097.7 904.6 1092.1Z M1071.1 1023.1 1077.7 1021.2 1084.2 1025.0 1082.3 1029.6 1075.8 1028.7Z M1045.0 999.8 1047.5 999.8 1047.1 1002.2 1045.2 1001.8Z M515.0 502.0 518.8 509.5 521.2 519.5 520.0 529.5 515.0 537.0 508.8 545.8 502.5 547.0 503.8 537.0 508.8 529.5 513.8 519.5 515.0 512.0Z M483.8 598.2 488.8 599.5 492.5 595.8 497.5 597.0 496.2 607.0 497.5 617.0 492.5 622.0 487.5 617.0 485.0 607.0Z M418.8 567.5 426.2 566.5 425.0 572.0 420.0 573.2Z M383.8 547.0 388.8 545.0 391.2 550.8 388.8 555.8 385.0 554.0Z M528.8 523.2 533.8 522.0 534.5 526.5 529.5 527.5Z M501.2 512.0 505.0 510.8 506.2 519.5 502.5 520.8Z M562.5 733.2 566.2 739.5 565.0 747.0 573.8 745.8 585.0 748.2 595.0 749.5 590.0 752.0 575.0 750.8 565.0 753.2 555.0 758.2 547.5 760.8 545.0 758.2 555.0 752.0 561.2 744.5Z M298.8 752.0 302.5 755.8 303.8 769.5 301.2 770.8 299.5 760.8Z M552.5 772.0 556.2 774.5 550.0 787.0 545.0 797.0 542.5 795.8 548.0 784.5Z M266.6 420.4 272.2 419.6 277.0 414.0 283.4 417.2 288.2 413.2 293.8 415.6 294.6 420.4 288.2 424.4 283.4 426.8 277.0 425.2 273.8 422.8Z M269.0 446.0 277.0 441.2 288.2 436.4 293.8 435.6 289.8 438.8 280.2 443.6 272.2 446.8Z M313.8 434.0 320.2 439.6 325.0 444.4 328.2 449.2 331.4 452.4 326.6 451.6 322.6 447.6 318.6 442.0Z M304.2 431.6 309.0 436.4 310.6 438.8 307.4 437.2Z M417.8 471.6 422.6 465.2 432.2 460.4 440.2 455.6 445.0 452.4 448.2 446.0 449.8 452.4 443.4 458.8 433.8 464.4 425.8 469.2 420.2 476.4Z M435.4 482.8 441.8 479.6 445.0 486.0 440.2 494.0 435.4 490.8Z M453.0 471.6 457.8 466.8 461.0 460.4 464.2 462.0 461.0 470.0 456.2 476.4Z M464.2 481.2 470.6 474.8 475.4 470.0 477.0 473.2 472.2 479.6 467.4 486.0Z M441.8 449.2 445.0 441.2 448.2 439.6 449.0 446.0 445.0 452.4Z M456.2 452.4 459.4 444.4 461.8 446.0 459.4 454.0Z M479.4 455.6 481.8 454.0 484.2 462.0 482.6 468.4 480.2 463.6Z M512.2 484.4 516.2 482.8 518.6 487.6 515.4 490.8Z M476.2 424.4 480.2 422.8 483.4 430.0 481.0 433.2 477.8 429.2Z M429.0 468.4 435.4 466.8 438.6 470.0 435.4 474.8 432.2 472.4Z M403.4 454.0 409.8 450.8 417.8 447.6 419.4 449.2 411.4 453.2 405.8 458.8Z M365.0 354.8 367.4 355.6 366.9 361.2 364.7 360.4Z M385.8 351.6 388.2 350.8 387.4 356.4Z M453.8 503.6 459.4 502.0 469.0 499.6 471.4 510.0 473.8 522.8 474.6 534.0 467.4 537.2 459.4 538.8 449.8 535.6 450.6 526.0 452.2 514.8Z M516.2 503.6 521.0 506.8 521.8 516.4 517.0 522.8 513.8 527.6 509.0 530.8 505.8 538.8 501.0 542.0 502.6 532.4 507.4 524.4 512.2 518.0 515.4 510.0Z"/>
<path class="r" d="M271.2 389.5 280.0 383.8 290.0 381.2 303.8 375.0 310.0 365.0 315.0 355.0 322.5 347.0 336.2 345.0 M331.2 358.8 328.8 375.0 328.8 392.5 326.2 407.5 330.0 421.2 337.5 426.2 343.8 426.2 M481.2 390.0 487.5 382.5 497.5 381.2 508.8 391.2 518.8 383.8 530.0 378.8 540.0 375.0 546.2 372.5 M385.0 327.5 387.5 340.0 390.5 347.5 385.5 358.8 M460.0 306.2 463.8 318.8 M1190.0 458.0 1177.5 470.0 1170.0 475.0 1162.5 482.5 1152.5 486.2 1142.5 490.0 1137.5 497.5 1128.8 500.0 1122.5 506.2 1112.5 507.5 1105.0 506.2 M1355.0 435.0 1362.5 447.5 1370.0 460.0 1365.0 472.5 1360.0 485.0 1355.0 487.0 M1325.0 435.0 1335.0 450.0 1330.0 462.5 1331.2 478.8 1317.5 485.0 1308.8 490.0 1305.0 495.0 1310.0 502.5 1302.5 512.5 1305.0 522.5 1307.5 525.0 1302.5 532.5 1298.8 536.2 1303.8 542.5 1297.5 551.2 1292.5 552.5 1285.0 537.5 1277.5 541.2 1267.5 542.5 1255.0 543.8 1255.0 556.2 1248.8 560.0 1245.0 567.5 1240.0 573.8 1230.0 577.5 1217.5 576.2 1205.0 575.0 1192.5 572.5 M1540.0 365.0 1535.0 375.0 1530.0 395.0 1540.0 412.5 1545.0 430.0 1537.5 455.0 1527.5 470.0 1525.0 477.5 1535.0 490.0 1542.5 505.0 1547.5 515.0 1555.0 522.5 1557.5 537.5 1552.5 545.0 1562.5 553.8 1577.5 555.0 1590.0 560.0 1597.5 565.0 M1401.2 600.0 1407.5 607.5 1405.0 612.0 M1630.0 372.5 1627.5 382.5 1630.0 392.5 1625.0 402.5 1615.0 415.0 1610.0 427.5 1608.8 445.0 1605.0 460.0 1610.0 470.0 1625.0 477.5 1645.0 475.0 1660.0 480.0 1660.0 487.0 M1811.2 323.8 1807.5 335.0 1802.5 345.0 1790.0 342.5 1780.0 338.8 1778.8 350.0 1770.0 355.0 1775.0 367.5 1765.0 377.5 1757.5 380.0 1751.2 372.5 1747.5 350.0 1748.8 332.5 1740.0 328.0 M1605.0 462.5 1615.0 472.5 1635.0 478.8 1650.0 475.0 1660.0 482.5 1655.0 502.5 1662.5 527.5 1650.0 532.5 1651.2 545.0 1642.5 562.5 1635.0 556.2 1623.8 557.5 1627.5 570.0 1625.0 577.5 1615.0 575.0 1608.8 577.5 M1843.8 585.0 1832.5 590.0 1822.5 596.2 1823.8 607.5 1827.5 620.0 1831.2 635.0 1832.5 650.0 1833.8 658.8 1828.8 657.5 M1640.0 938.2 1647.5 922.0 1651.2 912.0 1653.8 894.5 1650.0 882.0 1651.2 869.5 1657.5 854.5 1662.5 842.0 1670.0 833.2 M1670.0 833.0 1671.5 830.0 1671.0 825.0 1670.0 819.0 1668.0 813.0 1665.0 809.0 1661.0 806.0 1656.0 804.0 1653.0 801.0 1652.5 797.0 1655.0 794.8 1659.0 794.8 1664.0 794.5 M1617.5 964.5 1612.5 974.5 1601.2 987.0 1596.2 997.0 1592.5 1009.5 1590.0 1022.0 1575.0 1027.0 1565.0 1029.5 1555.0 1037.0 1545.0 1047.0 1537.5 1054.5 1531.2 1055.8 M860.0 564.5 847.5 560.8 835.0 562.0 827.5 569.5 820.0 582.0 815.0 592.0 815.0 607.0 810.0 619.5 805.0 629.5 799.5 637.0 801.2 647.0 807.5 659.5 813.8 672.0 818.8 684.5 825.0 690.8 830.0 699.5 828.8 712.0 822.5 724.5 815.0 732.0 810.0 747.0 812.5 762.0 825.0 774.5 840.0 787.0 855.0 799.0 M825.0 690.8 840.0 692.0 855.0 695.8 880.0 704.5 895.0 709.5 907.5 719.5 920.0 732.0 925.0 744.5 930.0 757.0 942.5 762.0 951.2 774.5 955.0 787.0 960.0 799.0 M940.0 559.5 955.0 569.5 967.5 579.5 980.0 587.0 980.0 599.5 976.2 617.0 968.8 627.0 967.5 637.0 972.5 652.0 982.5 657.0 987.5 662.0 998.8 665.8 1005.0 672.0 995.0 679.5 990.0 685.8 M998.8 514.5 1012.5 527.0 1021.2 537.0 1022.5 557.0 1023.8 574.5 1021.2 594.5 1030.0 607.0 1033.8 614.5 1030.0 632.0 1026.2 649.5 1022.5 672.0 1030.0 684.5 1037.5 694.5 1042.5 712.0 1046.2 734.5 1052.5 752.0 1060.0 769.5 1066.2 787.0 1070.0 799.0 M1033.8 614.5 1045.0 613.2 1052.5 622.0 1055.0 634.5 1065.0 644.5 1080.0 652.0 1100.0 657.0 1117.5 663.2 1131.2 664.5 1132.5 657.0 1150.0 654.5 1155.0 652.0 1167.5 653.2 1180.0 657.0 1192.5 664.5 1205.0 667.0 M1082.5 525.8 1095.0 528.2 1105.0 524.5 1107.5 514.5 1095.0 509.5 1095.0 507.0 1105.0 504.5 1125.0 505.8 1135.0 497.0 1145.0 489.5 1155.0 487.0 M705.0 527.0 710.0 512.0 717.5 494.5 730.0 490.8 742.5 487.0 M705.0 542.0 720.0 542.0 732.5 534.5 742.5 534.5 745.0 544.5 M710.0 634.5 712.5 599.5 727.5 587.0 737.5 569.5 M1192.5 573.2 1198.8 572.0 1205.0 574.5 M1182.5 609.5 1192.5 615.8 1205.0 614.5 M1048.8 535.8 1057.5 532.5 1068.8 535.0 M1053.8 549.5 1062.5 551.0 1070.5 549.5 M1050.5 559.5 1062.5 560.0 1075.0 558.0 M1037.5 522.0 1038.8 527.0 1039.5 533.2 M1355.0 487.0 1354.5 512.0 1353.8 534.5 1360.0 549.5 1370.0 564.5 1377.5 579.5 1387.5 589.5 1402.5 597.0 1412.5 603.2 1425.0 609.5 1440.0 610.8 1457.5 607.0 1470.0 604.5 1480.0 600.8 1490.0 603.2 1500.0 607.0 1508.8 608.2 1515.0 612.0 1516.2 627.0 1521.2 637.0 1522.5 649.5 1517.5 667.0 1515.0 682.0 1508.8 697.0 1497.5 712.0 1487.5 722.0 1475.0 724.5 1462.5 722.0 1450.0 723.2 1436.2 720.8 1433.8 732.0 1428.8 742.0 1427.5 757.0 1428.8 774.5 1430.0 790.8 1435.0 792.0 M1408.8 603.2 1407.5 609.5 1400.0 614.5 1385.0 617.0 1372.5 624.5 1360.0 630.8 1347.5 640.8 1332.5 649.5 1330.0 662.0 1335.0 674.5 M1330.0 662.0 1315.0 673.2 1305.0 662.0 1290.0 659.5 1280.0 662.0 1270.0 667.0 M1255.0 662.0 1242.5 667.0 1230.0 669.5 1217.5 664.5 1205.0 669.5 M1205.0 617.0 1217.5 614.5 1230.0 619.5 1240.0 627.0 1242.5 642.0 1246.2 652.0 M1237.5 687.0 1240.0 712.0 1242.5 737.0 1247.5 757.0 1252.5 774.5 1251.2 799.0 M1455.0 642.0 1457.5 652.0 1445.0 667.0 1430.0 682.0 1415.0 694.5 1395.0 700.8 1380.0 704.5 1367.5 719.5 1355.0 729.5 1345.0 727.0 1330.0 717.0 1317.5 714.5 1310.0 722.0 1302.5 737.0 1292.5 757.0 1275.0 772.0 1262.5 787.0 1255.0 799.0 M1251.2 934.5 1255.0 947.0 1260.0 962.0 1255.0 977.0 1245.0 989.5 1230.0 999.5 1217.5 1009.5 1200.0 1014.5 1185.0 1018.2 1177.5 1024.5 1170.0 1034.5 1155.0 1037.0 1141.2 1037.0 M1245.0 944.5 1237.5 932.0 1230.0 919.5 1225.0 907.0 1217.5 892.0 1205.0 889.5 1202.5 882.0 1197.5 867.0 1192.5 854.5 1191.2 847.0 M1180.0 829.5 1185.0 817.0 1191.2 802.0 1190.0 787.0 1180.0 779.5 1167.5 782.0 1162.5 792.0 M1061.2 772.0 1067.5 787.0 1077.5 799.5 1080.0 812.0 1082.5 829.5 1080.0 847.0 1067.5 857.0 1058.8 872.0 1055.0 884.5 M346.2 854.5 360.0 862.0 380.0 868.2 395.0 869.0 407.5 862.0 422.5 852.0 428.8 844.5 425.0 834.5 415.0 825.8 405.0 817.0 402.5 807.0 M431.2 952.0 440.0 942.0 447.5 927.0 446.2 912.0 443.8 892.0 440.0 874.5 430.0 864.5 440.0 854.5 455.0 839.5 467.5 829.5 475.0 819.5 480.0 809.5 495.0 807.0 517.5 799.5 527.5 787.0 537.5 777.0 M530.0 867.0 527.5 879.5 528.8 892.0 522.5 907.0 513.8 919.5 507.5 937.0 503.8 947.0 M530.0 867.0 532.5 854.5 542.5 849.5 557.5 848.2 572.5 852.0 585.0 857.0 600.0 867.0 610.0 877.0 625.0 887.0 635.0 882.0 645.0 867.0 652.5 854.5 M570.0 854.5 575.0 872.0 582.5 882.0 595.0 884.5 605.0 877.0 M227.5 779.5 230.0 792.0 228.8 802.0 236.8 800.2 M205.0 815.8 207.5 802.0 212.5 787.0 220.0 772.0 M205.0 1056.2 220.0 1051.2 223.8 1045.0 217.5 1035.0 228.8 1020.0 235.0 1016.2 245.0 1017.5 257.5 1026.2 270.0 1027.5 280.0 1026.2 M233.8 1047.5 237.5 1060.0 247.5 1072.5 251.2 1078.8 M620.0 1015.0 625.0 1025.0 635.0 1032.5 645.0 1037.5 652.5 1045.0 657.5 1057.5 665.0 1065.0 672.5 1077.5 M565.0 1045.0 562.5 1057.5 567.5 1065.0 565.0 1077.5 M857.6 900.0 868.8 918.6 876.3 946.6 881.8 961.5 893.0 972.7 900.5 978.3 919.1 982.1 935.9 997.0 947.1 1006.3 952.7 1017.5 943.4 1023.1 940.6 1030.5 942.5 1037.6 M1490.0 1118.2 1505.0 1107.5 1517.5 1102.5 1530.0 1107.5 1532.5 1118.2 M251.2 540.8 242.5 554.5 220.0 562.0 221.2 592.0 230.0 597.0 223.8 627.0 205.0 639.5 M340.0 540.8 343.8 559.5 342.0 579.5 355.0 594.5 357.5 617.0 377.5 619.5 M284.0 548.8 292.5 562.0 305.0 569.5 315.0 582.0 322.5 592.0 M360.0 634.5 345.0 647.0 332.5 662.0 322.5 677.0 310.0 694.5 300.0 712.0 295.0 722.0 296.2 737.0 302.5 752.0 305.0 769.5 307.5 787.0 310.0 799.0 M295.0 712.0 280.0 707.0 265.0 702.0 250.0 704.5 235.0 699.5 220.0 687.0 215.0 662.0 205.0 634.5 M590.0 502.0 586.2 519.5 585.0 539.5 592.5 559.5 598.8 570.8 M517.5 582.0 520.0 602.0 540.0 609.5 575.0 604.5 595.0 604.5 630.0 594.5 647.5 597.0 652.5 607.0 675.0 612.0 695.0 609.5 M490.0 622.0 500.0 634.5 512.5 649.5 522.5 662.0 517.5 677.0 527.5 692.0 542.5 704.5 552.5 712.0 560.0 737.0 M522.5 662.0 537.5 659.5 555.0 662.0 575.0 659.5 M560.0 737.0 575.0 727.0 595.0 722.0 615.0 727.0 630.0 717.0 645.0 719.5 660.0 712.0 M332.2 359.6 331.4 369.2 329.0 382.0 328.2 394.8 325.8 406.0 326.6 414.0 329.0 420.4 333.0 425.2 341.0 426.8 344.2 425.2 M270.6 401.2 261.0 414.0 254.6 422.0 251.4 425.2 266.6 420.4"/>
<path class="c" d="M218.8 373.8 217.5 365.0 221.2 357.5 228.8 350.0 230.0 345.0 237.5 340.0 245.0 336.2 248.8 328.8 258.8 322.5 265.0 313.8 277.5 305.0 287.5 303.0 292.5 310.0 300.0 306.2 307.5 305.0 315.0 310.0 321.2 315.0 327.5 307.5 335.0 306.2 340.0 315.0 343.8 322.5 350.0 325.0 357.5 320.0 361.2 313.8 370.0 311.2 380.0 310.0 387.5 311.2 392.5 302.5 402.5 298.8 412.5 300.0 420.0 295.0 430.0 296.2 440.0 293.8 447.5 290.0 457.5 291.2 470.0 292.5 480.0 287.5 492.5 288.8 505.0 287.5 513.8 288.8 520.0 295.0 530.0 296.2 537.5 292.5 542.5 297.5 550.0 302.5 560.0 302.5 567.5 307.5 571.2 316.2 577.5 322.5 582.5 330.0 587.5 340.0 585.0 345.0 577.5 342.5 572.5 338.8 573.8 347.5 575.0 353.0 M343.8 426.2 348.8 415.0 355.0 408.8 365.0 403.8 375.0 395.0 385.0 391.2 405.0 392.5 422.5 390.0 437.5 381.2 451.2 373.8 467.5 373.8 473.8 382.5 480.0 388.8 481.2 397.5 470.0 406.2 450.0 408.8 435.0 410.0 417.5 410.0 405.0 415.0 395.0 425.0 388.8 437.5 380.0 452.5 375.0 462.5 377.5 475.0 380.0 487.0 M435.0 275.5 442.5 274.5 448.8 278.8 455.0 277.5 457.5 273.8 465.0 273.8 467.5 278.0 462.5 281.2 466.2 285.0 460.0 287.0 455.0 282.5 447.5 282.5 441.2 278.8Z M478.8 283.8 485.0 281.2 492.5 282.5 496.2 286.2 491.2 288.8 483.8 287.5Z M498.8 286.2 506.2 285.0 511.2 288.8 505.0 291.2Z M530.0 295.0 537.5 291.2 541.2 295.0 535.0 298.8Z M547.5 300.0 555.0 298.8 560.0 302.5 552.5 305.0Z M621.2 175.0 620.0 185.0 615.0 190.0 621.2 195.0 627.5 200.0 638.8 206.2 636.2 198.8 630.0 192.5 631.2 185.0 627.5 177.5 630.0 175.0 M582.5 175.0 587.5 178.8 595.0 177.5 600.0 175.0 M645.0 175.0 655.0 181.2 665.0 186.2 675.0 192.5 M665.0 207.5 671.2 210.0 677.5 215.0 M693.8 208.8 700.0 211.2 705.0 215.0 M567.5 218.0 570.0 219.5 568.8 221.5 566.8 220.0Z M208.8 198.8 212.5 193.8 217.5 195.0 220.0 200.0 215.0 201.2 212.5 205.0 208.0 204.5Z M206.2 271.2 212.5 268.0 221.2 269.5 215.0 273.0 207.5 275.0Z M701.2 451.2 703.8 445.0 710.0 442.5 716.2 445.5 719.2 452.5 715.0 457.5 706.2 458.0Z M901.9 436.9 904.4 430.6 912.5 430.6 916.2 436.2 915.6 438.1 905.0 438.1Z M795.0 461.2 798.8 459.5 802.5 466.2 803.8 473.0 800.0 472.0 796.2 466.2Z M969.4 455.0 974.4 451.9 976.9 459.4 971.9 458.8Z M953.8 463.8 960.0 458.8 966.2 461.9 961.2 464.4 956.2 465.0Z M945.6 439.4 950.0 437.8 955.0 440.0 956.9 442.2 953.8 441.0 950.0 439.8 946.9 440.8Z M934.4 445.6 937.5 443.8 941.2 446.2 938.1 449.0 935.6 448.1Z M1001.9 435.6 1006.9 436.0 1011.9 437.2 1011.2 438.8 1006.2 438.1 1002.5 437.2Z M991.9 508.8 993.8 502.5 997.5 498.1 1000.0 500.0 998.8 505.0 996.2 510.0Z M911.2 368.8 905.0 363.8 895.0 363.8 885.0 366.2 875.0 367.0 865.0 364.5 855.0 361.2 845.0 362.0 835.0 362.0 825.0 364.5 817.5 366.2 812.5 365.0 810.0 368.8 805.0 372.5 803.8 376.2 797.5 378.8 792.5 381.2 785.0 382.5 786.2 388.8 780.0 390.5 775.0 392.5 770.0 396.2 766.2 401.2 760.0 403.8 753.8 406.2 750.8 412.5 752.5 418.8 757.5 421.2 761.2 425.0 763.8 430.0 760.0 433.8 763.8 437.5 768.8 441.2 773.8 444.5 778.8 447.5 785.0 450.8 790.0 449.5 787.5 443.8 784.5 435.0 783.0 425.0 784.5 416.2 788.8 408.8 795.0 403.0 801.2 398.8 807.5 396.2 815.0 392.5 822.5 387.5 830.0 383.8 837.5 382.5 841.2 378.8 850.0 377.0 860.0 375.5 870.0 374.5 880.0 375.0 890.0 377.0 900.0 376.2 908.8 373.8Z M787.5 390.0 793.8 395.0 800.0 398.8 M777.5 253.8 787.5 256.2 795.0 258.8 792.5 261.2 782.5 258.8Z M785.0 262.5 795.0 262.0 800.0 266.2 792.5 268.8 786.2 266.2Z M801.2 266.2 811.2 265.0 818.8 271.2 810.0 273.0 802.5 271.2Z M833.8 277.5 845.0 276.2 855.0 282.5 863.8 288.8 857.5 291.2 847.5 287.5 838.8 283.8Z M861.2 277.5 871.2 278.8 870.0 281.2 862.5 280.0Z M868.8 292.0 880.0 292.5 885.0 297.5 880.0 300.5 871.2 298.8Z M886.2 298.8 897.5 297.5 906.2 301.2 903.8 305.0 892.5 303.8Z M887.5 288.8 897.5 290.5 896.2 292.5 888.8 290.8Z M818.8 280.0 827.5 281.2 828.8 285.0 821.2 283.8Z M803.8 275.0 812.5 278.8 811.2 281.2 805.0 278.8Z M850.0 292.5 860.0 295.0 865.0 298.8 858.8 298.0Z M993.8 325.0 1000.0 324.0 1003.8 326.5 997.5 328.0Z M971.2 338.8 977.5 339.5 981.2 342.0 975.0 341.2Z M1077.5 341.2 1085.0 335.0 1095.0 331.2 1107.5 329.5 1117.5 335.0 1120.0 341.2 1115.0 345.0 1105.0 346.2 1095.0 347.5 1085.0 347.5Z M1087.5 351.2 1095.0 347.5 1110.0 346.2 1122.5 347.5 1132.5 350.0 1135.0 357.5 1130.0 362.0 1117.5 361.2 1105.0 359.5 1095.0 356.2Z M1131.2 375.0 1137.5 367.5 1145.0 357.5 1152.5 352.5 1162.5 355.0 1172.5 358.8 1173.8 363.8 1165.0 367.5 1155.0 370.0 1145.0 372.5 1137.5 375.0Z M1066.2 329.5 1072.5 329.0 1077.5 331.0 1071.2 331.8Z M1178.8 366.2 1185.0 365.5 1191.2 368.0 1183.8 369.2Z M241.2 839.0 263.8 837.5 270.0 839.0 272.0 847.0 273.8 857.0 272.5 865.8 280.0 868.2 287.5 872.0 288.8 875.8 280.0 877.0 272.5 872.0 263.8 871.5 255.0 872.5 245.0 870.8 239.5 867.0 242.5 857.0 248.0 852.0 247.5 844.5Z M1670.0 752.5 1673.0 754.0 1676.0 757.0 1678.0 760.0 1679.0 764.0 1683.0 768.0 1686.2 772.0 1695.0 782.0 1701.2 794.5 1708.8 804.5 1716.2 814.5 1725.0 827.0 1733.8 838.2 1742.5 848.2 1750.0 855.8 1757.5 862.0 1762.5 868.2 1756.2 864.5 1747.5 859.5 1740.0 860.8 1736.2 867.0 1738.8 877.0 1741.2 889.5 1745.0 899.5 1752.5 907.0 1762.5 912.0 1768.8 918.2 1775.0 927.0 1778.8 935.8 1773.8 932.0 1768.8 925.0 1761.2 926.5 1762.0 937.0 1761.2 947.0 1756.2 938.2 1751.2 925.8 1746.2 913.2 1738.8 900.8 1731.2 890.8 1725.0 880.8 1720.0 868.2 1715.0 854.5 1708.8 842.0 1702.5 830.8 1695.0 820.8 1687.5 812.0 1682.5 802.0 1677.5 789.5 1675.0 781.5 1672.5 779.5 1672.5 777.0 1676.0 775.0 1678.5 773.5 1677.5 770.0 1675.5 766.0 1672.0 762.5 1669.5 760.0 1667.5 758.0 1669.5 756.0Z M1723.8 207.5 1730.0 197.5 1737.5 193.8 1743.0 193.8 1741.2 203.8 1736.2 212.5 1730.0 221.2 1725.0 221.2Z M1472.0 318.8 1480.0 313.8 1492.5 310.0 1503.8 306.2 1505.0 311.2 1497.5 317.5 1487.5 322.5 1475.0 323.0Z M1677.5 300.0 1685.0 295.0 1690.0 298.8 1685.0 303.8 1678.8 304.5Z M1229.5 426.2 1233.8 422.5 1242.5 423.0 1241.2 428.8 1233.8 430.0Z M1397.0 349.5 1400.5 348.8 1402.5 355.5 1398.8 356.2Z M1178.8 366.2 1185.0 365.5 1191.2 367.5 1185.0 369.0Z M1813.8 520.0 1815.0 511.2 1820.0 512.5 1821.2 520.0 1817.5 531.2Z M1890.0 571.2 1897.5 570.0 1908.8 577.5 1900.0 576.2Z M1913.8 568.8 1923.8 569.0 1920.0 570.2Z M1865.0 760.0 1865.0 745.0 1867.5 736.2 1869.5 740.0 1868.0 750.0 1869.5 758.8 1866.2 761.2Z M1831.2 972.0 1832.5 962.0 1837.5 948.2 1836.2 959.5 1835.0 972.0Z M1842.5 944.5 1843.8 932.0 1847.5 919.5 1853.8 908.2 1855.0 910.8 1850.0 922.0 1847.5 934.5 1845.0 945.8Z M1860.0 899.5 1862.5 884.5 1865.0 879.5 1865.0 889.5 1862.5 899.5Z M1871.2 857.0 1872.5 847.0 1873.8 847.0 1873.0 857.0Z M1868.8 774.5 1870.0 773.2 1872.0 780.8 1870.0 782.0Z M1604.5 763.5 1613.5 763.5 1613.5 770.0 1611.5 775.0 1608.0 772.0 1605.0 774.5Z M1597.5 773.0 1599.5 769.0 1601.5 767.5 1601.8 772.5Z M1647.0 792.2 1648.0 789.0 1649.5 792.0Z M1408.8 341.2 1411.2 336.9 1416.2 333.5 1423.8 333.8 1430.0 336.2 1433.1 333.1 1433.1 328.8 1436.2 325.6 1445.0 325.0 1451.2 321.9 1458.8 321.2 1465.0 320.6 1463.8 326.2 1461.2 331.9 1455.0 335.0 1454.4 339.4 1451.2 343.1 1446.2 343.8 1441.2 346.2 1436.2 350.0 1431.2 351.2 1430.6 356.2 1426.2 357.8 1420.0 358.1 1413.8 355.6 1410.0 353.1 1411.2 348.8 1408.8 346.2Z M1471.9 316.2 1476.2 314.4 1481.2 311.9 1487.5 310.0 1495.0 307.5 1503.8 307.5 1505.0 310.0 1500.0 315.0 1492.5 319.4 1485.0 321.9 1477.5 322.5 1473.1 323.1Z M1449.4 366.9 1452.5 361.2 1458.8 358.8 1466.2 359.0 1472.5 363.1 1470.0 366.2 1463.8 368.8 1457.5 370.6 1451.2 371.9Z M1440.6 360.6 1443.8 357.8 1447.5 358.1 1448.8 361.2 1445.6 365.0 1441.9 364.0Z M1406.2 375.6 1410.0 376.0 1415.0 378.1 1414.8 380.0 1410.0 378.8 1406.9 377.2Z M554.5 466.0 555.5 462.5 558.0 463.0 558.5 465.0 556.5 467.5Z M631.0 467.5 632.2 466.8 633.2 469.0 631.8 470.0Z M1892.5 175.0 1890.0 187.5 1891.2 196.2 1900.0 193.8 1907.5 186.2 1908.8 192.5 1917.5 193.8 1926.2 187.5 1932.5 177.5 1933.0 175.0 M1907.5 251.2 1915.0 242.5 1925.0 240.0 1932.5 233.0 1935.0 237.5 1930.0 245.0 1920.0 248.8 1915.0 256.2Z M1763.8 958.2 1772.5 964.5 1787.5 970.8 1802.5 974.5 1815.0 973.2 1822.5 970.8 1823.8 962.0 1825.0 954.5 1826.2 967.0 1832.5 977.0 1837.5 982.0 1840.0 978.2 1837.5 984.5 1830.0 992.0 1825.0 999.5 1821.2 1012.0 1822.5 1022.0 1815.0 1027.0 1805.0 1025.8 1795.0 1030.8 1787.5 1034.5 1780.0 1033.2 1781.2 1040.8 1787.5 1045.8 1795.0 1044.5 1798.8 1049.5 1790.0 1053.2 1786.2 1058.2 1780.0 1052.0 1776.2 1042.0 1771.2 1032.0 1772.5 1019.5 1782.5 1013.2 1781.2 1003.2 1776.2 992.0 1771.2 979.5 1766.2 968.2Z M1793.8 1122.0 1795.0 1079.5 1792.5 1072.0 1797.5 1064.5 1798.8 1057.0 1805.0 1054.5 1808.8 1062.0 1815.0 1069.5 1822.5 1075.8 1828.8 1082.0 1835.0 1094.5 1840.0 1122.0 M1757.5 968.2 1760.0 970.0 1758.8 972.0 1756.5 970.5Z M1768.8 1048.2 1770.5 1047.0 1771.2 1050.8 1769.5 1052.0Z M305.0 939.0 308.8 952.0 313.8 969.5 312.5 984.5 305.0 994.5 290.0 998.2 275.0 998.2 260.0 989.5 250.0 979.5 235.0 964.5 227.5 947.0 220.0 932.0 205.0 922.0 M272.0 843.2 280.0 844.5 290.0 842.5 305.0 844.5 317.5 845.8 330.0 848.2 336.2 847.0 M205.0 815.8 215.0 807.0 227.5 803.2 236.8 800.2 242.5 812.0 246.2 819.5 255.0 827.0 263.8 834.5 267.5 838.2 M242.5 812.0 250.0 804.5 258.8 797.0 257.5 805.8 265.0 809.5 M460.0 944.5 480.0 942.0 497.5 942.5 505.0 952.0 516.2 958.2 513.8 972.0 505.0 982.0 496.2 986.5 501.2 993.2 492.5 989.5 482.5 984.5 470.0 989.5 465.0 994.5 470.0 1002.0 457.5 994.5 452.5 999.5 455.0 1012.0 453.8 1022.0 457.5 1037.0 465.0 1044.5 462.5 1057.0 455.0 1067.0 455.0 1084.0 457.5 1097.0 455.0 1122.0 M400.0 1045.0 401.2 1059.5 402.5 1084.0 405.0 1104.5 402.5 1122.0 M460.0 1078.8 462.5 1071.2 470.0 1068.8 477.5 1072.5 476.2 1078.8 M218.6 360.4 217.0 374.0 221.0 380.4 227.4 387.6 237.0 389.2 248.2 387.6 257.8 390.8 264.2 391.6 269.0 389.2 275.4 384.4 277.8 384.4 272.2 390.0 269.0 395.6 270.6 401.2 264.2 405.2 258.6 412.4 253.0 420.4 248.2 428.4 244.2 436.4 239.4 444.4 237.0 452.4 232.2 456.4 225.8 458.8 219.4 465.2 214.6 473.2 214.6 476.4 219.4 479.6 225.0 486.8 232.2 481.2 238.6 478.8 245.0 480.4 251.4 488.4 254.6 488.4 262.6 484.4 272.2 479.6 280.2 476.4 289.8 468.4 297.8 462.0 301.0 455.6 302.6 450.8 307.4 454.8 317.0 456.4 326.6 455.6 331.4 454.0 336.2 452.4 341.8 450.8 345.0 447.6 345.8 439.6 346.6 430.0 344.2 425.2 M391.4 442.8 392.2 449.2 385.8 450.0 381.0 452.4 376.2 456.4 374.6 462.0 377.0 468.4 375.4 474.8 377.8 479.6 381.0 482.8 397.0 489.2 409.8 490.8 419.4 495.6 429.0 501.2 433.8 502.8 M247.4 550.0 251.4 542.0 250.6 537.2 243.4 529.2 232.2 523.6 217.8 522.0 205.0 516.4 M269.0 550.0 281.8 546.8 294.6 540.4 304.2 526.0 315.4 518.0 326.6 512.4 333.0 515.6 334.6 524.4 333.0 534.0 337.8 538.8 345.8 537.2 352.2 529.2 357.0 522.8 363.4 519.6 358.6 511.6 361.0 502.8 365.0 498.8 371.4 497.2 381.0 499.6 390.6 503.6 397.0 510.0 403.4 516.4 411.4 522.0 417.8 518.0 425.8 522.8 430.6 522.0 M288.2 494.8 291.4 487.6 297.8 482.8 305.8 482.0 313.8 485.2 309.0 487.6 302.6 490.0 296.2 494.8Z M259.4 491.6 269.0 486.0 278.6 481.2 284.2 478.0 283.4 479.9 275.4 485.2 265.8 490.8Z M224.2 497.2 226.6 494.0 229.0 496.4 228.2 501.2 225.0 501.2Z M335.4 506.0 341.0 501.2 345.8 497.2 353.8 499.6 358.6 504.4 355.4 507.6 347.4 506.0 341.0 508.4Z M352.2 490.8 356.2 490.0 360.2 492.4 358.6 498.0 353.8 498.8Z M371.4 455.6 373.8 453.7 376.2 455.6 374.6 458.8 372.2 458.0Z M367.4 464.4 370.6 463.6 372.2 466.0 369.0 466.8Z M205.0 410.0 211.4 409.2 219.4 411.6 229.0 414.0 239.4 415.6 233.8 418.8 232.2 425.2 227.4 433.2 222.6 439.6 216.2 442.0 211.4 439.6 214.6 433.2 217.0 426.8 214.6 422.0 208.2 420.4 205.0 421.2 M205.0 444.4 209.8 449.2 216.2 452.4 222.6 457.2 219.4 462.0 213.0 460.4 208.2 465.2 205.0 466.8 M233.0 426.8 235.4 426.2 237.0 428.4 234.6 429.4Z M575.0 353.0 580.0 355.0 590.0 360.0 593.8 367.5 591.2 375.0 598.8 378.8 605.0 385.0 611.2 395.0 617.5 407.5 622.5 420.0 627.5 432.5 628.8 445.0 625.0 455.0 615.0 462.5 602.5 465.0 590.0 462.5 580.0 452.5 572.5 442.5 566.2 430.0 561.2 417.5 557.5 408.8 555.0 406.2 M555.0 406.2 555.5 408.0 557.0 410.0 556.0 414.0 556.5 418.0 558.0 424.0 556.5 429.0 554.0 429.0 557.0 430.0 559.0 436.0 559.5 443.0 557.0 447.0 553.0 450.0 549.0 452.0 547.0 460.0 543.5 467.0 542.0 472.0 544.0 476.0 547.0 480.0 548.0 487.0 550.0 492.0 553.0 497.0 555.0 499.0 560.0 499.0 563.0 495.0 564.0 491.0 561.0 487.0 559.5 482.0 559.0 475.0 561.0 471.5 567.0 469.5 570.0 471.5 572.0 477.0 574.0 482.0 576.0 486.0 579.0 492.0 M579.0 492.0 580.0 490.0 588.8 485.0 591.2 478.8 603.8 475.0 615.0 473.0 625.0 470.5 630.0 473.0 633.0 480.0 635.0 486.2 641.2 480.0 647.5 472.5 650.0 465.0 655.0 457.5 661.2 450.0 662.5 442.5 660.0 435.5 665.0 440.0 672.5 445.0 677.5 451.2 677.5 460.0 675.0 466.2 665.0 463.8 658.8 466.2 657.5 471.2 661.2 478.8 665.0 483.8 672.5 485.0 678.8 482.5 685.0 476.2 695.0 473.8 710.0 473.8 720.0 473.0 728.8 473.8 730.0 476.2 737.5 473.8 746.2 472.0 751.2 473.0 745.0 476.2 740.0 482.5 733.8 487.5 730.0 490.0 737.5 488.8 745.0 486.2 752.5 485.5 762.5 487.5 770.0 490.0 780.0 488.8 786.2 490.0 788.8 496.2 787.5 502.5 792.5 500.0 797.5 496.2 803.8 495.0 802.5 485.0 801.2 476.2 805.0 473.8 812.5 478.8 822.5 486.2 832.5 495.0 842.5 505.0 852.5 516.2 860.0 525.0 865.0 528.8 M865.0 528.8 863.8 529.4 873.8 517.5 870.0 516.2 867.5 510.0 866.9 505.0 861.2 497.5 858.1 496.2 863.8 486.2 866.2 480.0 867.5 475.0 864.4 472.5 865.0 468.1 868.8 464.4 875.0 463.1 881.9 459.4 886.2 453.8 890.0 446.2 894.4 440.6 898.1 438.1 901.2 440.6 907.5 442.5 915.0 443.8 920.0 446.9 922.9 450.0 921.2 456.2 918.8 461.2 915.0 466.2 910.6 470.6 909.4 473.8 912.5 478.8 913.8 485.0 913.1 492.5 911.2 497.5 908.8 502.5 906.9 510.0 905.0 516.2 903.1 522.5 903.8 527.5 907.5 531.9 910.0 535.0 908.8 537.5 905.0 542.5 902.5 548.8 897.5 555.0 891.2 560.0 885.0 566.0 880.0 571.2 876.2 576.2 871.2 578.8 866.2 577.5 862.5 575.0 M862.5 575.0 865.0 585.0 872.5 587.5 880.0 585.0 887.5 581.2 896.2 575.0 902.5 570.0 906.9 566.0 911.2 558.8 916.2 553.8 917.5 547.5 917.9 541.2 916.9 537.5 919.4 533.8 925.0 531.9 932.5 531.0 937.5 532.2 941.2 536.9 943.1 542.5 943.5 547.5 941.2 552.5 939.0 556.9 939.4 560.6 942.5 563.8 946.2 567.5 952.5 571.2 958.8 576.2 961.2 572.5 957.5 568.1 953.8 565.6 946.2 561.9 942.8 559.4 943.5 555.0 945.6 550.6 948.5 548.8 948.1 542.5 946.9 535.0 941.2 530.6 935.0 525.6 928.8 523.8 923.1 525.0 916.2 524.4 914.4 521.9 916.2 516.2 915.6 510.0 918.8 503.8 923.8 497.5 925.6 491.2 922.5 482.5 919.4 475.0 922.5 470.0 928.8 466.9 936.2 465.0 940.0 461.2 941.2 456.2 940.0 450.6 943.1 451.2 944.4 456.2 944.0 461.2 941.2 466.2 938.8 471.2 938.8 476.2 936.9 479.4 940.0 482.5 945.0 485.0 950.0 486.2 955.0 488.8 958.8 492.5 963.8 494.0 966.9 493.5 962.5 492.5 960.0 488.1 956.2 485.0 951.2 481.2 947.5 477.5 945.0 472.5 946.2 470.0 951.2 469.4 955.0 470.0 957.5 473.8 961.2 473.8 963.1 471.2 961.2 468.8 957.5 468.1 958.8 465.6 963.8 463.8 970.0 465.0 975.0 467.5 978.8 470.0 983.8 473.1 986.9 478.1 991.2 482.5 996.2 482.5 1000.0 485.0 997.5 490.0 994.4 493.8 995.0 497.5 992.5 503.8 991.2 508.8 995.0 512.5 M995.0 512.5 996.2 515.0 1000.0 512.5 1004.4 508.8 1003.8 502.5 1002.5 495.0 1005.0 490.0 1005.6 485.0 1002.5 480.6 997.5 475.6 993.8 471.2 988.8 468.8 985.0 462.5 986.2 456.2 985.0 452.5 985.6 445.6 992.5 443.8 1005.0 444.4 1017.5 445.0 1023.8 445.6 1030.0 443.8 1036.2 443.8 1041.2 446.2 1035.0 449.4 1028.8 451.2 1027.5 453.1 1035.0 458.8 1030.0 452.5 1036.2 450.0 1042.5 446.2 1038.8 440.0 1033.8 436.2 1031.2 433.8 1030.0 430.0 1035.0 423.8 1040.0 421.2 1050.0 417.5 1061.2 414.4 1073.8 413.1 1086.2 410.6 1092.5 410.0 M1092.5 410.0 1092.5 410.0 1105.0 408.8 1117.5 405.0 1130.0 401.2 1137.5 398.8 1142.5 397.5 1145.0 390.0 1152.5 382.5 1162.5 378.8 1175.0 379.5 1180.0 381.2 1172.5 386.2 1185.0 387.5 1190.0 385.0 1197.5 390.0 1205.0 387.5 1217.5 386.2 1227.5 387.5 1235.0 392.5 1241.2 398.8 1241.2 407.5 1235.0 416.2 1230.0 425.0 1223.8 433.8 1217.5 436.2 1205.0 445.0 1190.0 458.0 1191.2 460.0 1202.5 453.8 1215.0 446.2 1227.5 437.0 1241.2 435.0 1245.0 440.0 1248.8 447.5 1250.0 456.2 1252.5 445.0 1255.0 437.5 1267.5 433.8 1285.0 430.5 1288.8 436.2 1300.0 437.5 1310.0 437.0 1320.0 433.8 1325.0 427.5 1322.5 420.0 1327.5 415.0 1340.0 416.2 1348.8 413.8 1360.0 412.5 1367.5 417.5 1372.5 425.0 1377.5 432.5 1370.0 431.2 1380.0 438.8 1377.5 442.5 1387.5 450.0 1395.0 452.5 1401.2 452.5 1403.8 440.0 1403.8 427.5 M1403.8 427.5 1405.0 426.9 1410.0 430.0 1417.5 431.9 1423.8 428.8 1428.8 422.5 1435.0 420.6 1441.2 420.0 1446.2 423.1 1450.6 423.1 1451.9 420.0 1447.5 418.8 1442.5 418.8 1446.2 415.6 1451.9 412.5 1457.5 410.6 1461.9 409.4 1458.8 405.0 1455.0 402.5 1457.5 399.4 1453.1 398.8 1450.0 396.2 1451.2 393.1 1455.0 391.9 1458.8 389.4 1461.2 385.0 1456.2 383.8 1458.8 381.2 1467.5 379.4 1477.5 375.0 1487.5 371.2 1500.0 368.8 1498.1 372.5 1492.5 375.0 1488.1 379.4 1492.5 378.1 1497.5 375.0 1502.5 373.1 1500.0 377.5 1496.9 381.9 1498.1 385.6 1503.8 381.2 1506.2 375.0 1506.9 370.0 1512.5 363.8 1520.0 360.6 1527.5 359.4 1531.9 361.2 1528.8 365.0 1525.6 368.1 1530.0 368.8 1536.2 366.9 1541.2 366.2 1540.6 370.0 1543.8 366.9 1548.8 365.0 1553.1 365.6 1556.2 368.8 1561.2 367.5 1567.5 362.5 1572.5 356.2 1580.0 348.8 1587.5 343.1 1596.2 338.1 1605.0 335.6 1612.5 335.6 1618.8 340.0 1623.8 347.5 1628.8 349.4 1635.0 347.5 1638.8 345.0 1640.6 349.4 1645.0 353.8 1648.8 357.5 1650.0 362.5 1646.2 368.8 1640.0 371.2 1633.8 372.5 1630.0 375.0 1635.0 368.8 1640.0 365.0 1642.5 360.0 1641.2 353.8 1642.5 345.0 1646.2 338.8 1651.2 332.5 1655.0 328.8 M1655.0 328.8 1660.0 325.0 1672.5 317.5 1677.5 310.0 1678.8 306.2 1685.0 307.5 1695.0 310.0 1705.0 310.0 1710.0 302.5 1706.2 296.2 1697.5 292.5 1693.8 288.8 1691.2 285.0 1700.0 277.5 1711.2 270.0 1717.5 262.5 1725.0 255.0 1735.0 247.5 1747.5 242.5 1760.0 240.0 1772.5 236.2 1787.5 233.8 1802.5 228.8 1815.0 225.8 1820.0 228.8 1827.5 228.8 1832.5 233.8 1840.0 231.2 1845.0 235.0 1835.0 230.0 1828.8 226.2 1833.8 220.0 1840.0 215.0 1850.0 210.0 1862.5 207.5 1873.8 204.5 1875.0 212.5 1871.2 221.2 1875.0 225.0 1867.5 231.2 1875.0 235.0 1880.0 241.2 1885.0 247.5 1890.0 248.8 1887.5 255.0 1880.0 257.5 1870.0 260.0 1865.0 265.0 1855.0 262.5 1847.5 265.0 1842.5 270.0 1837.5 277.5 1830.0 276.2 1822.5 272.5 1818.8 267.5 1816.2 273.8 1820.0 280.0 1827.5 286.2 1831.2 295.0 1832.5 305.0 1830.0 313.8 1822.5 318.8 1815.0 320.0 1811.2 323.8 1818.8 322.5 1825.0 325.0 1832.5 322.5 1840.0 322.5 1847.5 327.5 1855.0 331.2 1865.0 332.5 1872.5 337.5 1875.0 345.0 1865.0 350.0 1857.5 353.8 1855.0 360.0 1853.8 375.0 1851.2 390.0 1847.5 407.5 1847.5 425.0 1846.2 440.0 1851.2 452.5 1840.0 451.2 1832.5 451.2 1825.0 457.5 1820.0 467.5 1818.8 477.5 1815.0 487.0 M1815.0 487.0 1815.0 487.0 1810.0 475.0 1807.5 487.5 1802.5 497.5 1798.8 507.5 1801.2 517.5 1805.0 525.0 1807.5 535.0 1811.2 545.0 1817.5 552.5 1820.0 547.5 1827.5 547.0 1830.0 553.8 1832.5 560.0 1840.0 567.5 1847.5 570.0 1852.5 576.2 1852.5 582.5 1846.2 581.2 1843.8 585.0 1845.0 592.5 1850.0 602.5 1855.0 608.8 1862.5 612.5 1865.0 620.0 1860.0 623.8 1855.0 627.5 1855.0 640.0 1856.2 650.0 1862.5 657.5 1868.8 661.2 1862.5 667.5 1860.0 675.0 1862.5 685.0 1866.2 695.0 1870.0 707.5 1870.0 720.0 1868.8 730.0 1862.5 725.0 1852.5 715.0 1840.0 702.5 1827.5 690.0 1815.0 677.5 1802.5 665.0 1792.5 652.5 1785.0 637.5 1778.8 622.5 1776.2 610.0 1776.2 600.0 1770.0 592.5 1773.8 587.5 1777.5 580.0 1778.8 567.5 1780.0 555.0 1777.5 540.0 1775.0 525.0 1776.2 510.0 1778.8 497.5 1781.2 485.0 1777.5 477.5 1772.5 470.0 1768.8 462.5 1766.2 455.0 1771.2 446.2 1772.5 445.0 1765.0 447.5 1758.8 452.5 1755.0 458.8 1760.0 467.5 1763.8 475.0 1765.0 477.5 1760.0 478.8 1761.2 487.5 1757.5 498.8 1755.0 506.2 1752.5 510.0 1750.0 505.0 1748.8 510.0 1745.0 501.2 1738.8 491.2 1736.2 496.2 1730.0 497.5 1725.0 502.5 1717.5 507.5 1715.0 517.5 1715.8 532.5 1716.2 547.5 1717.5 562.5 1718.8 572.5 1725.0 572.5 1732.5 573.8 1727.5 580.0 1720.0 583.8 1715.0 590.0 1711.2 596.2 1706.2 598.8 1703.8 603.8 1698.8 603.8 1705.0 592.5 1697.5 591.2 1688.8 593.8 1687.5 597.5 1680.0 596.2 1672.5 601.2 1671.2 606.2 1673.8 611.2 1665.0 613.8 1662.5 618.8 1655.0 620.0 1648.8 622.5 1647.5 628.8 1640.0 627.5 1630.0 632.5 1620.0 638.8 1613.8 646.2 1611.2 657.5 1608.8 667.5 1605.0 677.5 1606.2 687.5 1603.8 697.5 1600.0 707.5 1597.5 720.0 1596.2 732.5 1593.8 745.0 1590.0 757.5 1586.2 772.0 M1586.2 772.0 1586.2 772.0 1581.2 779.5 1585.0 784.5 1592.5 783.2 1600.0 779.5 1603.8 784.5 1608.8 795.8 1615.0 798.2 1616.2 789.5 1613.8 784.5 1620.0 783.2 1625.0 785.8 1630.0 795.8 1632.5 792.0 1627.5 784.5 1626.2 778.2 1635.0 775.8 1640.0 772.0 M1640.0 772.0 1643.0 774.0 1647.0 775.0 1650.0 779.0 1655.0 782.0 1661.0 783.0 1666.0 784.5 1669.5 786.5 1670.0 790.0 1668.0 792.5 1664.0 794.0 1670.0 796.0 1673.0 799.0 M1673.0 799.0 1677.5 804.5 1682.5 814.5 1685.0 827.0 1688.8 839.5 1691.2 849.5 1696.2 862.0 1701.2 874.5 1705.0 889.5 1706.2 904.5 1705.0 922.0 1705.5 937.0 1706.2 954.5 1705.0 972.0 1702.5 989.5 1700.0 1007.0 1697.5 1024.5 1696.0 1030.5 1693.0 1047.0 1685.8 1064.0 1676.5 1076.0 1663.5 1079.0 1652.0 1084.5 1646.5 1094.0 1641.0 1105.0 1636.5 1117.0 M460.0 944.5 451.2 947.0 442.5 950.8 435.0 952.5 431.2 955.8 422.5 962.0 415.0 967.0 408.0 972.0 409.5 982.0 408.8 989.5 405.0 999.5 401.2 1009.5 400.0 1022.0 400.0 1034.5 400.0 1045.0 M305.0 939.0 302.5 927.0 298.8 914.5 293.8 902.0 290.0 889.5 287.5 880.0 291.2 877.0 297.5 882.0 305.0 878.2 315.0 873.2 321.2 870.8 321.2 859.5 327.5 858.2 335.0 858.2 345.0 859.5 350.0 858.2 346.2 854.5 340.0 852.0 336.2 847.0 M412.0 524.5 417.5 520.8 425.0 521.5 431.2 522.0 438.0 529.5 437.5 522.0 433.0 513.2 431.2 505.8"/>
<path class="g" d="M-325.2 365.0 L-317.5 380.7 L-309.6 396.2 L-301.6 411.7 L-293.4 427.1 L-285.0 442.3 L-276.5 457.5 L-267.8 472.6 L-258.9 487.6 L-249.9 502.5 L-240.7 517.3 L-231.4 532.0 L-221.8 546.6 L-212.2 561.1 L-202.3 575.5 L-192.3 589.8 L-182.2 603.9 L-171.9 618.0 L-161.4 631.9 L-150.8 645.7 L-140.1 659.4 L-129.1 673.0 L-118.1 686.5 L-106.9 699.8 L-95.5 713.0 L-84.0 726.1 L-72.4 739.1 L-60.6 751.9 L-48.7 764.6 L-36.6 777.2 L-24.4 789.6 L-12.1 802.0 L0.4 814.1 L13.0 826.1 L25.7 838.0 L38.6 849.8 L51.6 861.4 L64.7 872.9 L77.9 884.2 L91.3 895.4 L104.8 906.4 L118.4 917.3 L132.1 928.0 L146.0 938.6 L160.0 949.0 L174.0 959.2 L188.2 969.4 L202.5 979.3 L216.9 989.1 L231.4 998.8 L246.1 1008.2 L260.8 1017.5 L275.6 1026.7 L290.5 1035.7 L305.6 1044.5 L320.7 1053.2 L335.9 1061.7 L351.2 1070.0 L366.6 1078.2 L382.1 1086.1 L397.6 1094.0 L413.3 1101.6 L429.0 1109.1 L444.9 1116.4 L460.8 1123.5 L476.7 1130.5 L492.8 1137.2 L508.9 1143.8 L525.1 1150.2 L541.4 1156.5 L557.7 1162.5 L574.1 1168.4 L590.6 1174.1 L607.1 1179.6 L623.7 1185.0 L640.3 1190.1 L657.0 1195.1 L673.8 1199.9 L690.6 1204.5 L707.4 1208.9 L724.3 1213.1 L741.3 1217.2 L758.3 1221.1 L775.3 1224.7 L792.4 1228.2 L809.5 1231.5 L826.6 1234.6 L843.8 1237.5 L861.0 1240.3 L878.3 1242.8 L895.5 1245.2 L912.8 1247.3 L930.1 1249.3 L947.5 1251.1 L964.8 1252.7 L982.2 1254.1 L999.6 1255.3 L1016.9 1256.3 L1034.3 1257.1 L1051.8 1257.8 L1069.2 1258.2 L1086.6 1258.4 L1104.0 1258.5 L1121.4 1258.4 L1138.9 1258.1 L1156.3 1257.5 L1173.7 1256.8 L1191.1 1255.9 L1208.5 1254.8 L1225.9 1253.6 L1243.2 1252.1 L1260.6 1250.4 L1277.9 1248.6 L1295.2 1246.5 L1312.5 1244.3 L1329.7 1241.9 L1346.9 1239.3 L1364.1 1236.5 L1381.3 1233.5 L1398.4 1230.3 L1415.5 1226.9 L1432.6 1223.4 L1449.6 1219.6 L1466.6 1215.7 L1483.5 1211.6 L1500.4 1207.3 L1517.2 1202.8 L1534.0 1198.1 L1550.7 1193.3 L1567.4 1188.2 L1584.0 1183.0 L1600.6 1177.6 L1617.1 1172.0 L1633.6 1166.3 L1649.9 1160.3 L1666.2 1154.2 L1682.5 1147.9 L1698.7 1141.4 L1714.8 1134.7 L1730.8 1127.9 L1746.7 1120.9 L1762.6 1113.7 L1778.4 1106.3 L1794.1 1098.8 L1809.7 1091.1 L1825.3 1083.2 L1840.7 1075.1 L1856.1 1066.9 L1871.3 1058.5 L1886.5 1050.0 L1901.6 1041.3 L1916.6 1032.4 L1931.5 1023.3 L1946.3 1014.1 L1961.0 1004.7 L1975.5 995.2 L1990.0 985.5 L2004.4 975.6 L2018.6 965.6 L2032.8 955.4 L2046.8 945.1 L2060.7 934.6 L2074.5 924.0 L2088.2 913.2 L2101.8 902.3 L2115.2 891.2 L2128.6 880.0 L2141.8 868.6 L2154.8 857.1 L2167.8 845.4 L2180.6 833.6 L2193.3 821.7 L2205.8 809.6 L2218.3 797.4 L2230.5 785.0 L2242.7 772.5 L2254.7 759.9 L2266.6 747.2 L2278.3 734.3 L2289.9 721.3 L2301.3 708.1 L2312.6 694.9 L2323.8 681.5 L2334.8 668.0 L2345.6 654.4 L2356.3 640.6 L2366.9 626.7 L2377.3 612.8 L2387.5 598.7 L2397.6 584.5 L2407.6 570.2 L2417.3 555.7 L2427.0 541.2 L2436.4 526.6 L2445.7 511.8 L2454.8 497.0 L2463.8 482.1 L2472.6 467.0 L2481.3 451.9 L2489.7 436.7 M-96.6 254.2 L-90.1 267.4 L-83.5 280.4 L-76.8 293.4 L-69.9 306.3 L-62.9 319.1 L-55.7 331.9 L-48.4 344.6 L-40.9 357.2 L-33.4 369.7 L-25.6 382.1 L-17.8 394.5 L-9.8 406.7 L-1.7 418.9 L6.6 430.9 L15.0 442.9 L23.5 454.8 L32.1 466.6 L40.9 478.3 L49.8 489.9 L58.9 501.4 L68.0 512.8 L77.3 524.1 L86.7 535.4 L96.3 546.4 L105.9 557.4 L115.7 568.3 L125.6 579.1 L135.6 589.8 L145.7 600.3 L156.0 610.8 L166.3 621.1 L176.8 631.3 L187.4 641.4 L198.1 651.4 L208.9 661.3 L219.8 671.0 L230.8 680.6 L241.9 690.2 L253.2 699.5 L264.5 708.8 L275.9 717.9 L287.4 726.9 L299.1 735.8 L310.8 744.6 L322.6 753.2 L334.5 761.7 L346.5 770.0 L358.6 778.3 L370.8 786.4 L383.1 794.3 L395.5 802.1 L407.9 809.8 L420.4 817.4 L433.0 824.8 L445.7 832.1 L458.5 839.2 L471.4 846.2 L484.3 853.0 L497.3 859.7 L510.4 866.3 L523.5 872.7 L536.7 879.0 L550.0 885.1 L563.4 891.1 L576.8 896.9 L590.3 902.6 L603.8 908.2 L617.4 913.6 L631.1 918.8 L644.8 923.9 L658.5 928.8 L672.4 933.6 L686.2 938.2 L700.2 942.7 L714.2 947.1 L728.2 951.2 L742.2 955.3 L756.3 959.1 L770.5 962.8 L784.7 966.4 L798.9 969.8 L813.2 973.0 L827.5 976.1 L841.8 979.0 L856.2 981.8 L870.6 984.4 L885.0 986.9 L899.5 989.1 L913.9 991.3 L928.4 993.3 L942.9 995.1 L957.5 996.7 L972.0 998.2 L986.6 999.6 L1001.2 1000.7 L1015.8 1001.8 L1030.4 1002.6 L1045.0 1003.3 L1059.6 1003.8 L1074.2 1004.2 L1088.9 1004.4 L1103.5 1004.5 L1118.1 1004.4 L1132.8 1004.1 L1147.4 1003.7 L1162.0 1003.1 L1176.6 1002.3 L1191.2 1001.4 L1205.8 1000.3 L1220.4 999.1 L1234.9 997.7 L1249.5 996.1 L1264.0 994.4 L1278.5 992.5 L1293.0 990.5 L1307.5 988.3 L1321.9 986.0 L1336.3 983.5 L1350.7 980.8 L1365.1 978.0 L1379.4 975.0 L1393.7 971.8 L1407.9 968.5 L1422.2 965.1 L1436.3 961.5 L1450.5 957.7 L1464.6 953.8 L1478.6 949.7 L1492.6 945.5 L1506.6 941.1 L1520.5 936.5 L1534.3 931.8 L1548.1 927.0 L1561.9 922.0 L1575.6 916.9 L1589.2 911.6 L1602.8 906.1 L1616.3 900.5 L1629.8 894.8 L1643.2 888.9 L1656.5 882.9 L1669.8 876.7 L1682.9 870.3 L1696.1 863.9 L1709.1 857.3 L1722.1 850.5 L1735.0 843.6 L1747.8 836.6 L1760.6 829.4 L1773.2 822.0 L1785.8 814.6 L1798.3 807.0 L1810.7 799.2 L1823.0 791.4 L1835.3 783.4 L1847.4 775.2 L1859.5 766.9 L1871.5 758.5 L1883.4 750.0 L1895.1 741.3 L1906.8 732.5 L1918.4 723.6 L1929.9 714.5 L1941.3 705.4 L1952.6 696.1 L1963.8 686.6 L1974.9 677.1 L1985.8 667.4 L1996.7 657.6 L2007.5 647.7 L2018.1 637.7 L2028.7 627.5 L2039.1 617.3 L2049.4 606.9 L2059.6 596.4 L2069.7 585.8 L2079.7 575.1 L2089.5 564.3 L2099.2 553.4 L2108.9 542.3 L2118.3 531.2 L2127.7 520.0 L2137.0 508.6 L2146.1 497.2 L2155.1 485.6 L2163.9 474.0 L2172.6 462.2 L2181.3 450.4 L2189.7 438.5 L2198.1 426.5 L2206.3 414.4 L2214.3 402.2 L2222.3 389.9 L2230.1 377.5 L2237.8 365.0 L2245.3 352.5 L2252.7 339.9 L2259.9 327.2 L2267.0 314.4 M128.1 145.3 L133.4 156.0 L138.7 166.6 L144.2 177.2 L149.8 187.6 L155.5 198.1 L161.3 208.4 L167.3 218.7 L173.3 229.0 L179.5 239.1 L185.7 249.2 L192.1 259.2 L198.6 269.2 L205.2 279.1 L211.9 288.9 L218.7 298.6 L225.7 308.3 L232.7 317.9 L239.8 327.4 L247.0 336.8 L254.4 346.2 L261.8 355.4 L269.4 364.6 L277.0 373.7 L284.8 382.7 L292.6 391.6 L300.5 400.5 L308.6 409.2 L316.7 417.9 L324.9 426.5 L333.3 435.0 L341.7 443.4 L350.2 451.7 L358.8 459.9 L367.5 468.0 L376.2 476.0 L385.1 483.9 L394.1 491.7 L403.1 499.5 L412.2 507.1 L421.4 514.6 L430.7 522.0 L440.1 529.3 L449.5 536.5 L459.0 543.7 L468.6 550.7 L478.3 557.6 L488.1 564.3 L497.9 571.0 L507.8 577.6 L517.8 584.1 L527.8 590.4 L537.9 596.7 L548.1 602.8 L558.3 608.8 L568.7 614.7 L579.0 620.5 L589.5 626.2 L600.0 631.8 L610.5 637.2 L621.2 642.5 L631.8 647.8 L642.6 652.9 L653.4 657.8 L664.2 662.7 L675.1 667.4 L686.1 672.1 L697.1 676.6 L708.1 680.9 L719.2 685.2 L730.3 689.3 L741.5 693.3 L752.8 697.2 L764.0 701.0 L775.4 704.6 L786.7 708.1 L798.1 711.5 L809.5 714.8 L821.0 717.9 L832.5 721.0 L844.0 723.8 L855.6 726.6 L867.2 729.2 L878.8 731.7 L890.4 734.1 L902.1 736.4 L913.8 738.5 L925.5 740.5 L937.2 742.3 L949.0 744.1 L960.8 745.7 L972.6 747.2 L984.4 748.5 L996.2 749.7 L1008.0 750.8 L1019.9 751.8 L1031.7 752.6 L1043.6 753.3 L1055.5 753.8 L1067.3 754.3 L1079.2 754.6 L1091.1 754.7 L1103.0 754.8 L1114.9 754.7 L1126.8 754.5 L1138.6 754.1 L1150.5 753.6 L1162.4 753.0 L1174.2 752.3 L1186.1 751.4 L1197.9 750.4 L1209.8 749.3 L1221.6 748.0 L1233.4 746.6 L1245.2 745.1 L1256.9 743.4 L1268.7 741.7 L1280.4 739.8 L1292.1 737.7 L1303.8 735.5 L1315.5 733.2 L1327.1 730.8 L1338.7 728.3 L1350.3 725.6 L1361.8 722.8 L1373.4 719.9 L1384.8 716.8 L1396.3 713.6 L1407.7 710.3 L1419.1 706.9 L1430.4 703.3 L1441.7 699.6 L1453.0 695.8 L1464.2 691.9 L1475.4 687.8 L1486.5 683.6 L1497.6 679.3 L1508.6 674.9 L1519.6 670.4 L1530.5 665.7 L1541.4 660.9 L1552.2 656.0 L1563.0 651.0 L1573.7 645.8 L1584.4 640.6 L1595.0 635.2 L1605.5 629.7 L1616.0 624.1 L1626.4 618.4 L1636.7 612.5 L1647.0 606.6 L1657.3 600.5 L1667.4 594.4 L1677.5 588.1 L1687.5 581.7 L1697.5 575.2 L1707.3 568.6 L1717.1 561.8 L1726.9 555.0 L1736.5 548.1 L1746.1 541.0 L1755.6 533.9 L1765.0 526.6 L1774.3 519.3 L1783.6 511.8 L1792.8 504.2 L1801.8 496.6 L1810.8 488.8 L1819.8 481.0 L1828.6 473.0 L1837.3 465.0 L1846.0 456.8 L1854.5 448.6 L1863.0 440.2 L1871.4 431.8 L1879.7 423.3 L1887.9 414.7 L1896.0 406.0 L1904.0 397.2 L1911.9 388.3 L1919.7 379.4 L1927.4 370.3 L1935.0 361.2 L1942.5 352.0 L1949.9 342.7 L1957.2 333.3 L1964.4 323.8 L1971.5 314.3 L1978.5 304.7 L1985.4 295.0 L1992.2 285.2 L1998.8 275.4 L2005.4 265.5 L2011.8 255.5 L2018.2 245.5 L2024.4 235.3 L2030.5 225.2 L2036.5 214.9 L2042.4 204.6 L2048.2 194.2 M335.2 45.0 L339.3 53.4 L343.6 61.7 L347.9 70.0 L352.3 78.3 L356.8 86.5 L361.3 94.6 L366.0 102.7 L370.8 110.8 L375.6 118.8 L380.6 126.7 L385.6 134.6 L390.7 142.5 L395.9 150.2 L401.2 158.0 L406.5 165.6 L412.0 173.2 L417.5 180.8 L423.1 188.2 L428.8 195.7 L434.6 203.0 L440.5 210.3 L446.4 217.5 L452.4 224.7 L458.5 231.8 L464.7 238.8 L470.9 245.8 L477.3 252.7 L483.7 259.5 L490.1 266.3 L496.7 272.9 L503.3 279.5 L510.0 286.1 L516.8 292.5 L523.6 298.9 L530.5 305.2 L537.5 311.5 L544.5 317.6 L551.6 323.7 L558.8 329.7 L566.1 335.6 L573.4 341.4 L580.7 347.2 L588.2 352.9 L595.7 358.5 L603.2 364.0 L610.8 369.4 L618.5 374.8 L626.3 380.0 L634.0 385.2 L641.9 390.3 L649.8 395.3 L657.8 400.2 L665.8 405.0 L673.8 409.8 L682.0 414.4 L690.1 419.0 L698.3 423.5 L706.6 427.8 L714.9 432.1 L723.3 436.3 L731.7 440.4 L740.1 444.4 L748.6 448.4 L757.2 452.2 L765.7 455.9 L774.4 459.5 L783.0 463.1 L791.7 466.5 L800.4 469.9 L809.2 473.1 L818.0 476.3 L826.9 479.4 L835.7 482.3 L844.6 485.2 L853.6 488.0 L862.5 490.6 L871.5 493.2 L880.6 495.7 L889.6 498.0 L898.7 500.3 L907.8 502.5 L916.9 504.5 L926.0 506.5 L935.2 508.4 L944.4 510.2 L953.6 511.8 L962.8 513.4 L972.1 514.9 L981.3 516.2 L990.6 517.5 L999.9 518.7 L1009.2 519.7 L1018.5 520.7 L1027.8 521.5 L1037.1 522.3 L1046.4 522.9 L1055.8 523.5 L1065.1 523.9 L1074.5 524.3 L1083.8 524.5 L1093.2 524.6 L1102.5 524.7 L1111.9 524.6 L1121.2 524.4 L1130.6 524.1 L1139.9 523.8 L1149.3 523.3 L1158.6 522.7 L1167.9 522.0 L1177.3 521.2 L1186.6 520.3 L1195.9 519.3 L1205.2 518.2 L1214.4 517.0 L1223.7 515.7 L1232.9 514.3 L1242.2 512.8 L1251.4 511.2 L1260.6 509.5 L1269.8 507.7 L1278.9 505.8 L1288.1 503.8 L1297.2 501.7 L1306.3 499.5 L1315.3 497.2 L1324.4 494.8 L1333.4 492.2 L1342.4 489.6 L1351.3 486.9 L1360.2 484.1 L1369.1 481.2 L1378.0 478.2 L1386.8 475.1 L1395.6 471.9 L1404.4 468.6 L1413.1 465.3 L1421.8 461.8 L1430.4 458.2 L1439.0 454.5 L1447.6 450.8 L1456.1 446.9 L1464.6 443.0 L1473.0 438.9 L1481.4 434.8 L1489.7 430.5 L1498.0 426.2 L1506.3 421.8 L1514.5 417.3 L1522.6 412.7 L1530.7 408.0 L1538.8 403.2 L1546.8 398.4 L1554.7 393.4 L1562.6 388.4 L1570.4 383.3 L1578.2 378.1 L1585.9 372.8 L1593.6 367.4 L1601.2 361.9 L1608.7 356.4 L1616.2 350.8 L1623.6 345.1 L1630.9 339.3 L1638.2 333.4 L1645.4 327.5 L1652.6 321.4 L1659.7 315.3 L1666.7 309.1 L1673.6 302.9 L1680.5 296.5 L1687.3 290.1 L1694.1 283.7 L1700.7 277.1 L1707.3 270.5 L1713.9 263.8 L1720.3 257.0 L1726.7 250.1 L1733.0 243.2 L1739.2 236.2 L1745.3 229.2 L1751.4 222.1 L1757.4 214.9 L1763.3 207.6 L1769.1 200.3 L1774.9 192.9 L1780.5 185.5 L1786.1 178.0 L1791.6 170.4 L1797.0 162.8 L1802.4 155.1 L1807.6 147.3 L1812.8 139.5 L1817.9 131.7 L1822.8 123.8 L1827.8 115.8 L1832.6 107.8 L1837.3 99.7 L1841.9 91.6 L1846.5 83.4 M496.4 -33.1 L499.6 -26.5 L503.0 -19.9 L506.4 -13.4 L509.8 -6.9 L513.4 -0.4 L517.0 6.1 L520.7 12.5 L524.4 18.8 L528.3 25.1 L532.2 31.4 L536.1 37.6 L540.2 43.8 L544.3 50.0 L548.4 56.1 L552.7 62.1 L557.0 68.1 L561.3 74.1 L565.8 80.0 L570.3 85.8 L574.8 91.6 L579.5 97.4 L584.1 103.1 L588.9 108.8 L593.7 114.4 L598.6 119.9 L603.5 125.4 L608.5 130.9 L613.6 136.2 L618.7 141.6 L623.8 146.8 L629.1 152.1 L634.4 157.2 L639.7 162.3 L645.1 167.4 L650.5 172.3 L656.1 177.3 L661.6 182.1 L667.2 186.9 L672.9 191.6 L678.6 196.3 L684.4 200.9 L690.2 205.5 L696.1 210.0 L702.0 214.4 L708.0 218.7 L714.0 223.0 L720.0 227.2 L726.1 231.4 L732.3 235.5 L738.5 239.5 L744.7 243.4 L751.0 247.3 L757.3 251.1 L763.7 254.9 L770.1 258.5 L776.6 262.1 L783.1 265.7 L789.6 269.1 L796.1 272.5 L802.7 275.8 L809.4 279.1 L816.0 282.2 L822.8 285.3 L829.5 288.4 L836.3 291.3 L843.1 294.2 L849.9 297.0 L856.8 299.7 L863.7 302.3 L870.6 304.9 L877.5 307.4 L884.5 309.8 L891.5 312.1 L898.6 314.4 L905.6 316.6 L912.7 318.7 L919.8 320.7 L926.9 322.7 L934.1 324.6 L941.2 326.3 L948.4 328.1 L955.6 329.7 L962.8 331.3 L970.1 332.7 L977.3 334.1 L984.6 335.4 L991.9 336.7 L999.2 337.8 L1006.5 338.9 L1013.8 339.9 L1021.1 340.8 L1028.4 341.7 L1035.8 342.4 L1043.1 343.1 L1050.5 343.7 L1057.9 344.2 L1065.2 344.6 L1072.6 345.0 L1080.0 345.3 L1087.4 345.4 L1094.8 345.5 L1102.2 345.6 L1109.5 345.5 L1116.9 345.4 L1124.3 345.2 L1131.7 344.9 L1139.1 344.5 L1146.4 344.0 L1153.8 343.5 L1161.2 342.9 L1168.5 342.2 L1175.8 341.4 L1183.2 340.5 L1190.5 339.6 L1197.8 338.5 L1205.1 337.4 L1212.4 336.2 L1219.7 335.0 L1226.9 333.6 L1234.2 332.2 L1241.4 330.7 L1248.6 329.1 L1255.8 327.4 L1263.0 325.7 L1270.2 323.9 L1277.3 322.0 L1284.4 320.0 L1291.5 317.9 L1298.6 315.8 L1305.6 313.6 L1312.6 311.3 L1319.6 308.9 L1326.6 306.5 L1333.5 304.0 L1340.5 301.4 L1347.3 298.7 L1354.2 295.9 L1361.0 293.1 L1367.8 290.2 L1374.6 287.2 L1381.3 284.2 L1388.0 281.1 L1394.7 277.9 L1401.3 274.6 L1407.9 271.3 L1414.4 267.9 L1420.9 264.4 L1427.4 260.8 L1433.8 257.2 L1440.2 253.5 L1446.6 249.7 L1452.9 245.9 L1459.2 242.0 L1465.4 238.0 L1471.6 234.0 L1477.7 229.9 L1483.8 225.7 L1489.8 221.4 L1495.8 217.1 L1501.8 212.7 L1507.7 208.3 L1513.5 203.8 L1519.3 199.2 L1525.1 194.6 L1530.8 189.9 L1536.4 185.1 L1542.0 180.3 L1547.6 175.4 L1553.0 170.5 L1558.5 165.5 L1563.9 160.4 L1569.2 155.3 L1574.4 150.1 L1579.6 144.9 L1584.8 139.6 L1589.9 134.2 L1594.9 128.8 L1599.9 123.4 L1604.8 117.9 L1609.7 112.3 L1614.4 106.7 L1619.2 101.0 L1623.8 95.3 L1628.4 89.5 L1633.0 83.7 L1637.4 77.8 L1641.9 71.9 L1646.2 65.9 L1650.5 59.9 L1654.7 53.8 L1658.8 47.7 L1662.9 41.5 L1666.9 35.3 L1670.9 29.1 L1674.7 22.8 L1678.5 16.5 L1682.3 10.1 L1685.9 3.7 L1689.5 -2.8 M602.6 17.7 L-409.5 716.0 M682.4 111.3 L-167.7 999.8 M779.4 186.8 L126.5 1228.8 M889.7 241.2 L460.9 1393.6 M1008.7 272.2 L821.8 1487.5 M1131.6 278.4 L1194.1 1506.5 M1253.1 259.7 L1562.6 1449.8 M1368.4 216.8 L1912.1 1319.7 M1472.6 151.5 L2228.0 1121.8 M1561.5 66.5 L2497.4 864.0"/>
<g fill="#000"><circle cx="579.5" cy="454.1" r="9.0"/><circle cx="579.5" cy="495.6" r="9.0"/><circle cx="600.2" cy="495.6" r="9.0"/><circle cx="621.0" cy="495.6" r="9.0"/><circle cx="1451.2" cy="495.6" r="9.0"/><circle cx="1472.0" cy="495.6" r="9.0"/><circle cx="1555.0" cy="495.6" r="9.0"/><circle cx="496.4" cy="516.4" r="9.0"/><circle cx="538.0" cy="516.4" r="9.0"/><circle cx="600.2" cy="516.4" r="9.0"/><circle cx="621.0" cy="516.4" r="9.0"/><circle cx="1368.2" cy="516.4" r="9.0"/><circle cx="1388.9" cy="516.4" r="9.0"/><circle cx="1409.7" cy="516.4" r="9.0"/><circle cx="1451.2" cy="516.4" r="9.0"/><circle cx="1472.0" cy="516.4" r="9.0"/><circle cx="1596.5" cy="516.4" r="9.0"/><circle cx="392.7" cy="537.1" r="9.0"/><circle cx="413.4" cy="537.1" r="9.0"/><circle cx="434.2" cy="537.1" r="9.0"/><circle cx="475.7" cy="537.1" r="9.0"/><circle cx="496.4" cy="537.1" r="9.0"/><circle cx="517.2" cy="537.1" r="9.0"/><circle cx="683.2" cy="537.1" r="9.0"/><circle cx="1575.8" cy="537.1" r="9.0"/><circle cx="371.9" cy="557.9" r="9.0"/><circle cx="434.2" cy="557.9" r="9.0"/><circle cx="454.9" cy="557.9" r="9.0"/><circle cx="538.0" cy="557.9" r="9.0"/><circle cx="641.7" cy="557.9" r="9.0"/><circle cx="683.2" cy="557.9" r="9.0"/><circle cx="745.5" cy="557.9" r="9.0"/><circle cx="517.2" cy="578.7" r="9.0"/><circle cx="538.0" cy="578.7" r="9.0"/><circle cx="558.7" cy="578.7" r="9.0"/><circle cx="600.2" cy="578.7" r="9.0"/><circle cx="745.5" cy="578.7" r="9.0"/><circle cx="1513.5" cy="578.7" r="9.0"/><circle cx="392.7" cy="599.4" r="9.0"/><circle cx="413.4" cy="599.4" r="9.0"/><circle cx="434.2" cy="599.4" r="9.0"/><circle cx="454.9" cy="599.4" r="9.0"/><circle cx="600.2" cy="599.4" r="9.0"/><circle cx="745.5" cy="599.4" r="9.0"/><circle cx="1513.5" cy="599.4" r="9.0"/><circle cx="392.7" cy="620.2" r="9.0"/><circle cx="413.4" cy="620.2" r="9.0"/><circle cx="538.0" cy="620.2" r="9.0"/><circle cx="579.5" cy="620.2" r="9.0"/><circle cx="641.7" cy="620.2" r="9.0"/><circle cx="662.5" cy="620.2" r="9.0"/><circle cx="683.2" cy="620.2" r="9.0"/><circle cx="724.8" cy="620.2" r="9.0"/><circle cx="745.5" cy="620.2" r="9.0"/><circle cx="1430.5" cy="620.2" r="9.0"/><circle cx="1451.2" cy="620.2" r="9.0"/><circle cx="1472.0" cy="620.2" r="9.0"/><circle cx="1492.7" cy="620.2" r="9.0"/><circle cx="371.9" cy="640.9" r="9.0"/><circle cx="392.7" cy="640.9" r="9.0"/><circle cx="434.2" cy="640.9" r="9.0"/><circle cx="454.9" cy="640.9" r="9.0"/><circle cx="475.7" cy="640.9" r="9.0"/><circle cx="496.4" cy="640.9" r="9.0"/><circle cx="517.2" cy="640.9" r="9.0"/><circle cx="538.0" cy="640.9" r="9.0"/><circle cx="621.0" cy="640.9" r="9.0"/><circle cx="724.8" cy="640.9" r="9.0"/><circle cx="745.5" cy="640.9" r="9.0"/><circle cx="1347.4" cy="640.9" r="9.0"/><circle cx="1430.5" cy="640.9" r="9.0"/><circle cx="1451.2" cy="640.9" r="9.0"/><circle cx="1472.0" cy="640.9" r="9.0"/><circle cx="1492.7" cy="640.9" r="9.0"/><circle cx="413.4" cy="661.7" r="9.0"/><circle cx="434.2" cy="661.7" r="9.0"/><circle cx="454.9" cy="661.7" r="9.0"/><circle cx="475.7" cy="661.7" r="9.0"/><circle cx="496.4" cy="661.7" r="9.0"/><circle cx="538.0" cy="661.7" r="9.0"/><circle cx="558.7" cy="661.7" r="9.0"/><circle cx="579.5" cy="661.7" r="9.0"/><circle cx="724.8" cy="661.7" r="9.0"/><circle cx="1243.7" cy="661.7" r="9.0"/><circle cx="1347.4" cy="661.7" r="9.0"/><circle cx="1430.5" cy="661.7" r="9.0"/><circle cx="1472.0" cy="661.7" r="9.0"/><circle cx="1492.7" cy="661.7" r="9.0"/><circle cx="1513.5" cy="661.7" r="9.0"/><circle cx="1534.2" cy="661.7" r="9.0"/><circle cx="392.7" cy="682.5" r="9.0"/><circle cx="413.4" cy="682.5" r="9.0"/><circle cx="434.2" cy="682.5" r="9.0"/><circle cx="454.9" cy="682.5" r="9.0"/><circle cx="475.7" cy="682.5" r="9.0"/><circle cx="496.4" cy="682.5" r="9.0"/><circle cx="517.2" cy="682.5" r="9.0"/><circle cx="662.5" cy="682.5" r="9.0"/><circle cx="724.8" cy="682.5" r="9.0"/><circle cx="1243.7" cy="682.5" r="9.0"/><circle cx="1326.7" cy="682.5" r="9.0"/><circle cx="1347.4" cy="682.5" r="9.0"/><circle cx="1451.2" cy="682.5" r="9.0"/><circle cx="1472.0" cy="682.5" r="9.0"/><circle cx="392.7" cy="703.2" r="9.0"/><circle cx="413.4" cy="703.2" r="9.0"/><circle cx="434.2" cy="703.2" r="9.0"/><circle cx="475.7" cy="703.2" r="9.0"/><circle cx="496.4" cy="703.2" r="9.0"/><circle cx="517.2" cy="703.2" r="9.0"/><circle cx="538.0" cy="703.2" r="9.0"/><circle cx="558.7" cy="703.2" r="9.0"/><circle cx="621.0" cy="703.2" r="9.0"/><circle cx="704.0" cy="703.2" r="9.0"/><circle cx="724.8" cy="703.2" r="9.0"/><circle cx="870.0" cy="703.2" r="9.0"/><circle cx="1036.1" cy="703.2" r="9.0"/><circle cx="1347.4" cy="703.2" r="9.0"/><circle cx="1451.2" cy="703.2" r="9.0"/><circle cx="1575.8" cy="703.2" r="9.0"/><circle cx="351.1" cy="724.0" r="9.0"/><circle cx="475.7" cy="724.0" r="9.0"/><circle cx="496.4" cy="724.0" r="9.0"/><circle cx="517.2" cy="724.0" r="9.0"/><circle cx="558.7" cy="724.0" r="9.0"/><circle cx="600.2" cy="724.0" r="9.0"/><circle cx="621.0" cy="724.0" r="9.0"/><circle cx="807.8" cy="724.0" r="9.0"/><circle cx="1036.1" cy="724.0" r="9.0"/><circle cx="371.9" cy="744.7" r="9.0"/><circle cx="413.4" cy="744.7" r="9.0"/><circle cx="434.2" cy="744.7" r="9.0"/><circle cx="454.9" cy="744.7" r="9.0"/><circle cx="496.4" cy="744.7" r="9.0"/><circle cx="517.2" cy="744.7" r="9.0"/><circle cx="538.0" cy="744.7" r="9.0"/><circle cx="621.0" cy="744.7" r="9.0"/><circle cx="704.0" cy="744.7" r="9.0"/><circle cx="787.0" cy="744.7" r="9.0"/><circle cx="807.8" cy="744.7" r="9.0"/><circle cx="828.5" cy="744.7" r="9.0"/><circle cx="1181.4" cy="744.7" r="9.0"/><circle cx="1409.7" cy="744.7" r="9.0"/><circle cx="1596.5" cy="744.7" r="9.0"/><circle cx="413.4" cy="765.5" r="9.0"/><circle cx="434.2" cy="765.5" r="9.0"/><circle cx="454.9" cy="765.5" r="9.0"/><circle cx="475.7" cy="765.5" r="9.0"/><circle cx="496.4" cy="765.5" r="9.0"/><circle cx="538.0" cy="765.5" r="9.0"/><circle cx="558.7" cy="765.5" r="9.0"/><circle cx="621.0" cy="765.5" r="9.0"/><circle cx="641.7" cy="765.5" r="9.0"/><circle cx="704.0" cy="765.5" r="9.0"/><circle cx="745.5" cy="765.5" r="9.0"/><circle cx="766.3" cy="765.5" r="9.0"/><circle cx="787.0" cy="765.5" r="9.0"/><circle cx="807.8" cy="765.5" r="9.0"/><circle cx="1181.4" cy="765.5" r="9.0"/><circle cx="1222.9" cy="765.5" r="9.0"/><circle cx="371.9" cy="786.3" r="9.0"/><circle cx="392.7" cy="786.3" r="9.0"/><circle cx="413.4" cy="786.3" r="9.0"/><circle cx="434.2" cy="786.3" r="9.0"/><circle cx="475.7" cy="786.3" r="9.0"/><circle cx="517.2" cy="786.3" r="9.0"/><circle cx="538.0" cy="786.3" r="9.0"/><circle cx="558.7" cy="786.3" r="9.0"/><circle cx="579.5" cy="786.3" r="9.0"/><circle cx="641.7" cy="786.3" r="9.0"/><circle cx="662.5" cy="786.3" r="9.0"/><circle cx="683.2" cy="786.3" r="9.0"/><circle cx="704.0" cy="786.3" r="9.0"/><circle cx="724.8" cy="786.3" r="9.0"/><circle cx="745.5" cy="786.3" r="9.0"/><circle cx="766.3" cy="786.3" r="9.0"/><circle cx="787.0" cy="786.3" r="9.0"/><circle cx="807.8" cy="786.3" r="9.0"/><circle cx="911.6" cy="786.3" r="9.0"/><circle cx="932.3" cy="786.3" r="9.0"/><circle cx="973.8" cy="786.3" r="9.0"/><circle cx="1036.1" cy="786.3" r="9.0"/><circle cx="1119.1" cy="786.3" r="9.0"/><circle cx="1139.9" cy="786.3" r="9.0"/><circle cx="1368.2" cy="786.3" r="9.0"/><circle cx="371.9" cy="807.0" r="9.0"/><circle cx="413.4" cy="807.0" r="9.0"/><circle cx="475.7" cy="807.0" r="9.0"/><circle cx="600.2" cy="807.0" r="9.0"/><circle cx="621.0" cy="807.0" r="9.0"/><circle cx="662.5" cy="807.0" r="9.0"/><circle cx="683.2" cy="807.0" r="9.0"/><circle cx="704.0" cy="807.0" r="9.0"/><circle cx="745.5" cy="807.0" r="9.0"/><circle cx="766.3" cy="807.0" r="9.0"/><circle cx="787.0" cy="807.0" r="9.0"/><circle cx="807.8" cy="807.0" r="9.0"/><circle cx="828.5" cy="807.0" r="9.0"/><circle cx="849.3" cy="807.0" r="9.0"/><circle cx="870.0" cy="807.0" r="9.0"/><circle cx="890.8" cy="807.0" r="9.0"/><circle cx="911.6" cy="807.0" r="9.0"/><circle cx="953.1" cy="807.0" r="9.0"/><circle cx="973.8" cy="807.0" r="9.0"/><circle cx="994.6" cy="807.0" r="9.0"/><circle cx="1098.4" cy="807.0" r="9.0"/><circle cx="1119.1" cy="807.0" r="9.0"/><circle cx="1139.9" cy="807.0" r="9.0"/><circle cx="1326.7" cy="807.0" r="9.0"/><circle cx="1347.4" cy="807.0" r="9.0"/><circle cx="1368.2" cy="807.0" r="9.0"/><circle cx="454.9" cy="827.8" r="9.0"/><circle cx="600.2" cy="827.8" r="9.0"/><circle cx="621.0" cy="827.8" r="9.0"/><circle cx="641.7" cy="827.8" r="9.0"/><circle cx="683.2" cy="827.8" r="9.0"/><circle cx="704.0" cy="827.8" r="9.0"/><circle cx="745.5" cy="827.8" r="9.0"/><circle cx="787.0" cy="827.8" r="9.0"/><circle cx="807.8" cy="827.8" r="9.0"/><circle cx="828.5" cy="827.8" r="9.0"/><circle cx="870.0" cy="827.8" r="9.0"/><circle cx="890.8" cy="827.8" r="9.0"/><circle cx="911.6" cy="827.8" r="9.0"/><circle cx="953.1" cy="827.8" r="9.0"/><circle cx="973.8" cy="827.8" r="9.0"/><circle cx="994.6" cy="827.8" r="9.0"/><circle cx="1015.3" cy="827.8" r="9.0"/><circle cx="1036.1" cy="827.8" r="9.0"/><circle cx="1077.6" cy="827.8" r="9.0"/><circle cx="1098.4" cy="827.8" r="9.0"/><circle cx="1119.1" cy="827.8" r="9.0"/><circle cx="1139.9" cy="827.8" r="9.0"/><circle cx="1202.1" cy="827.8" r="9.0"/><circle cx="1326.7" cy="827.8" r="9.0"/><circle cx="1347.4" cy="827.8" r="9.0"/><circle cx="1451.2" cy="827.8" r="9.0"/><circle cx="1492.7" cy="827.8" r="9.0"/><circle cx="1700.3" cy="827.8" r="9.0"/><circle cx="454.9" cy="848.5" r="9.0"/><circle cx="621.0" cy="848.5" r="9.0"/><circle cx="641.7" cy="848.5" r="9.0"/><circle cx="662.5" cy="848.5" r="9.0"/><circle cx="807.8" cy="848.5" r="9.0"/><circle cx="828.5" cy="848.5" r="9.0"/><circle cx="849.3" cy="848.5" r="9.0"/><circle cx="870.0" cy="848.5" r="9.0"/><circle cx="890.8" cy="848.5" r="9.0"/><circle cx="911.6" cy="848.5" r="9.0"/><circle cx="932.3" cy="848.5" r="9.0"/><circle cx="953.1" cy="848.5" r="9.0"/><circle cx="973.8" cy="848.5" r="9.0"/><circle cx="994.6" cy="848.5" r="9.0"/><circle cx="1015.3" cy="848.5" r="9.0"/><circle cx="1036.1" cy="848.5" r="9.0"/><circle cx="1056.9" cy="848.5" r="9.0"/><circle cx="1077.6" cy="848.5" r="9.0"/><circle cx="1098.4" cy="848.5" r="9.0"/><circle cx="1119.1" cy="848.5" r="9.0"/><circle cx="1264.4" cy="848.5" r="9.0"/><circle cx="1285.2" cy="848.5" r="9.0"/><circle cx="1326.7" cy="848.5" r="9.0"/><circle cx="1451.2" cy="848.5" r="9.0"/><circle cx="1492.7" cy="848.5" r="9.0"/><circle cx="870.0" cy="869.3" r="9.0"/><circle cx="890.8" cy="869.3" r="9.0"/><circle cx="911.6" cy="869.3" r="9.0"/><circle cx="932.3" cy="869.3" r="9.0"/><circle cx="953.1" cy="869.3" r="9.0"/><circle cx="973.8" cy="869.3" r="9.0"/><circle cx="994.6" cy="869.3" r="9.0"/><circle cx="1015.3" cy="869.3" r="9.0"/><circle cx="1036.1" cy="869.3" r="9.0"/><circle cx="1056.9" cy="869.3" r="9.0"/><circle cx="1077.6" cy="869.3" r="9.0"/><circle cx="1098.4" cy="869.3" r="9.0"/><circle cx="1119.1" cy="869.3" r="9.0"/><circle cx="1243.7" cy="869.3" r="9.0"/><circle cx="1264.4" cy="869.3" r="9.0"/><circle cx="1285.2" cy="869.3" r="9.0"/><circle cx="1326.7" cy="869.3" r="9.0"/><circle cx="1409.7" cy="869.3" r="9.0"/><circle cx="1451.2" cy="869.3" r="9.0"/><circle cx="1658.8" cy="869.3" r="9.0"/><circle cx="413.4" cy="890.1" r="9.0"/><circle cx="870.0" cy="890.1" r="9.0"/><circle cx="890.8" cy="890.1" r="9.0"/><circle cx="911.6" cy="890.1" r="9.0"/><circle cx="932.3" cy="890.1" r="9.0"/><circle cx="953.1" cy="890.1" r="9.0"/><circle cx="973.8" cy="890.1" r="9.0"/><circle cx="994.6" cy="890.1" r="9.0"/><circle cx="1015.3" cy="890.1" r="9.0"/><circle cx="1036.1" cy="890.1" r="9.0"/><circle cx="1056.9" cy="890.1" r="9.0"/><circle cx="1077.6" cy="890.1" r="9.0"/><circle cx="1119.1" cy="890.1" r="9.0"/><circle cx="1160.6" cy="890.1" r="9.0"/><circle cx="1181.4" cy="890.1" r="9.0"/><circle cx="1222.9" cy="890.1" r="9.0"/><circle cx="1243.7" cy="890.1" r="9.0"/><circle cx="1264.4" cy="890.1" r="9.0"/><circle cx="1285.2" cy="890.1" r="9.0"/><circle cx="1326.7" cy="890.1" r="9.0"/><circle cx="1388.9" cy="890.1" r="9.0"/><circle cx="1409.7" cy="890.1" r="9.0"/><circle cx="911.6" cy="910.8" r="9.0"/><circle cx="932.3" cy="910.8" r="9.0"/><circle cx="953.1" cy="910.8" r="9.0"/><circle cx="973.8" cy="910.8" r="9.0"/><circle cx="994.6" cy="910.8" r="9.0"/><circle cx="1015.3" cy="910.8" r="9.0"/><circle cx="1036.1" cy="910.8" r="9.0"/><circle cx="1056.9" cy="910.8" r="9.0"/><circle cx="1077.6" cy="910.8" r="9.0"/><circle cx="1181.4" cy="910.8" r="9.0"/><circle cx="1202.1" cy="910.8" r="9.0"/><circle cx="1222.9" cy="910.8" r="9.0"/><circle cx="1243.7" cy="910.8" r="9.0"/><circle cx="1264.4" cy="910.8" r="9.0"/><circle cx="1285.2" cy="910.8" r="9.0"/><circle cx="1305.9" cy="910.8" r="9.0"/><circle cx="1326.7" cy="910.8" r="9.0"/><circle cx="1368.2" cy="910.8" r="9.0"/><circle cx="1388.9" cy="910.8" r="9.0"/><circle cx="1409.7" cy="910.8" r="9.0"/><circle cx="1430.5" cy="910.8" r="9.0"/><circle cx="1534.2" cy="910.8" r="9.0"/><circle cx="1762.6" cy="910.8" r="9.0"/><circle cx="953.1" cy="931.6" r="9.0"/><circle cx="973.8" cy="931.6" r="9.0"/><circle cx="994.6" cy="931.6" r="9.0"/><circle cx="1015.3" cy="931.6" r="9.0"/><circle cx="1036.1" cy="931.6" r="9.0"/><circle cx="1056.9" cy="931.6" r="9.0"/><circle cx="1077.6" cy="931.6" r="9.0"/><circle cx="1098.4" cy="931.6" r="9.0"/><circle cx="1119.1" cy="931.6" r="9.0"/><circle cx="1139.9" cy="931.6" r="9.0"/><circle cx="1181.4" cy="931.6" r="9.0"/><circle cx="1202.1" cy="931.6" r="9.0"/><circle cx="1222.9" cy="931.6" r="9.0"/><circle cx="1243.7" cy="931.6" r="9.0"/><circle cx="1264.4" cy="931.6" r="9.0"/><circle cx="1285.2" cy="931.6" r="9.0"/><circle cx="1305.9" cy="931.6" r="9.0"/><circle cx="1326.7" cy="931.6" r="9.0"/><circle cx="1347.4" cy="931.6" r="9.0"/><circle cx="1368.2" cy="931.6" r="9.0"/><circle cx="1388.9" cy="931.6" r="9.0"/><circle cx="1409.7" cy="931.6" r="9.0"/><circle cx="1430.5" cy="931.6" r="9.0"/><circle cx="1534.2" cy="931.6" r="9.0"/><circle cx="1575.8" cy="931.6" r="9.0"/><circle cx="1617.3" cy="931.6" r="9.0"/><circle cx="1638.0" cy="931.6" r="9.0"/><circle cx="932.3" cy="952.3" r="9.0"/><circle cx="953.1" cy="952.3" r="9.0"/><circle cx="973.8" cy="952.3" r="9.0"/><circle cx="994.6" cy="952.3" r="9.0"/><circle cx="1015.3" cy="952.3" r="9.0"/><circle cx="1036.1" cy="952.3" r="9.0"/><circle cx="1056.9" cy="952.3" r="9.0"/><circle cx="1077.6" cy="952.3" r="9.0"/><circle cx="1181.4" cy="952.3" r="9.0"/><circle cx="1202.1" cy="952.3" r="9.0"/><circle cx="1222.9" cy="952.3" r="9.0"/><circle cx="1243.7" cy="952.3" r="9.0"/><circle cx="1264.4" cy="952.3" r="9.0"/><circle cx="1285.2" cy="952.3" r="9.0"/><circle cx="1305.9" cy="952.3" r="9.0"/><circle cx="1326.7" cy="952.3" r="9.0"/><circle cx="1347.4" cy="952.3" r="9.0"/><circle cx="1368.2" cy="952.3" r="9.0"/><circle cx="1388.9" cy="952.3" r="9.0"/><circle cx="1409.7" cy="952.3" r="9.0"/><circle cx="1430.5" cy="952.3" r="9.0"/><circle cx="1575.8" cy="952.3" r="9.0"/><circle cx="1596.5" cy="952.3" r="9.0"/><circle cx="1700.3" cy="952.3" r="9.0"/><circle cx="1824.8" cy="952.3" r="9.0"/><circle cx="932.3" cy="973.1" r="9.0"/><circle cx="953.1" cy="973.1" r="9.0"/><circle cx="973.8" cy="973.1" r="9.0"/><circle cx="1056.9" cy="973.1" r="9.0"/><circle cx="1077.6" cy="973.1" r="9.0"/><circle cx="1098.4" cy="973.1" r="9.0"/><circle cx="1119.1" cy="973.1" r="9.0"/><circle cx="1243.7" cy="973.1" r="9.0"/><circle cx="1264.4" cy="973.1" r="9.0"/><circle cx="1285.2" cy="973.1" r="9.0"/><circle cx="1326.7" cy="973.1" r="9.0"/><circle cx="1347.4" cy="973.1" r="9.0"/><circle cx="1368.2" cy="973.1" r="9.0"/><circle cx="1388.9" cy="973.1" r="9.0"/><circle cx="1409.7" cy="973.1" r="9.0"/><circle cx="973.8" cy="993.9" r="9.0"/><circle cx="1077.6" cy="993.9" r="9.0"/><circle cx="1098.4" cy="993.9" r="9.0"/><circle cx="1139.9" cy="993.9" r="9.0"/><circle cx="1222.9" cy="993.9" r="9.0"/><circle cx="1243.7" cy="993.9" r="9.0"/><circle cx="1264.4" cy="993.9" r="9.0"/><circle cx="1285.2" cy="993.9" r="9.0"/><circle cx="1326.7" cy="993.9" r="9.0"/><circle cx="1347.4" cy="993.9" r="9.0"/><circle cx="973.8" cy="1014.6" r="9.0"/><circle cx="1679.5" cy="1014.6" r="9.0"/><circle cx="1700.3" cy="1014.6" r="9.0"/><circle cx="1638.0" cy="1035.4" r="9.0"/><circle cx="1638.0" cy="1056.1" r="9.0"/><circle cx="1658.8" cy="1056.1" r="9.0"/><circle cx="1679.5" cy="1056.1" r="9.0"/><circle cx="1638.0" cy="1076.9" r="9.0"/><circle cx="1658.8" cy="1076.9" r="9.0"/><circle cx="1638.0" cy="1097.7" r="9.0"/></g>
<rect class="w" x="227" y="205.5" width="186" height="63.8"/>
<circle cx="255.7" cy="237.6" r="9.1" fill="#000"/>
<text x="274.0" y="250.4" font-size="32.3" textLength="129.5" lengthAdjust="spacingAndGlyphs" fill="#000">находки</text>
<rect class="w" x="850" y="1037.6" width="452" height="50.8"/>
<text x="859.6" y="1075.1" font-size="33.4" textLength="431" lengthAdjust="spacingAndGlyphs" fill="#000">Точки: 1270 Квадраты: 416</text>
<rect class="w" x="205" y="1078.8" width="606.5" height="41"/>
<text x="212.3" y="1106.5" font-size="21.9" textLength="591.5" lengthAdjust="spacingAndGlyphs" fill="#000">Карта подготовлена 14.3.2024 по данным на 25.03.2022</text>
</g>
<rect x="205.1" y="174.6" width="1754.1" height="944.4" fill="none" stroke="#111" stroke-width="1.7"/>
<text class="ax" x="185.2" y="289.6" text-anchor="end">60°N</text>
<text class="ax" x="185.2" y="668.7" text-anchor="end">50°N</text>
<text class="ax" x="185.2" y="992.0" text-anchor="end">40°N</text>
<text class="ax" x="563.6" y="1159.8" text-anchor="middle">60°E</text>
<text class="ax" x="879.6" y="1159.8" text-anchor="middle">80°E</text>
<text class="ax" x="1175.0" y="1159.8" text-anchor="middle">100°E</text>
<text class="ax" x="1477.5" y="1159.8" text-anchor="middle">120°E</text>
<path class="tk" d="M195 278.6 H205.1 M195 657.7 H205.1 M195 981.0 H205.1 M562.8 1119.0 V1128.8 M878.8 1119.0 V1128.8 M1174.2 1119.0 V1128.8 M1476.8 1119.0 V1128.8"/>
<text x="1026.6" y="152.8" font-size="59.2" text-anchor="middle" fill="#000">Carex atherodes</text>
</svg></body></html>
